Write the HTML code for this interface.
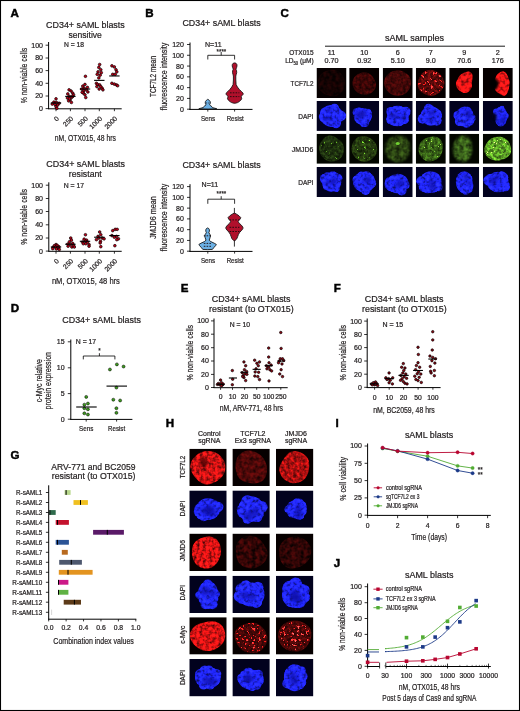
<!DOCTYPE html>
<html><head><meta charset="utf-8"><style>
html,body{margin:0;padding:0;background:#fff;}
svg{display:block;font-family:"Liberation Sans",sans-serif;will-change:transform;}
.t{stroke:#231f20;stroke-width:0.22px;}
</style></head><body>
<svg width="520" height="711" viewBox="0 0 520 711">
<defs><filter id="texR" x="-20%" y="-20%" width="140%" height="140%" color-interpolation-filters="sRGB"><feGaussianBlur in="SourceGraphic" stdDeviation="0.7" result="bl"/><feTurbulence type="fractalNoise" baseFrequency="0.32" numOctaves="2" seed="3" result="n"/><feColorMatrix in="n" type="matrix" values="1.4 0 0 0 -0.15  1.4 0 0 0 -0.15  1.4 0 0 0 -0.15  0 0 0 0 1" result="g"/><feComposite in="bl" in2="g" operator="arithmetic" k1="1.3" k2="0.25" k3="0" k4="0" result="m"/><feGaussianBlur in="m" stdDeviation="0.5"/></filter><filter id="texR2" x="-20%" y="-20%" width="140%" height="140%" color-interpolation-filters="sRGB"><feGaussianBlur in="SourceGraphic" stdDeviation="0.7" result="bl"/><feTurbulence type="fractalNoise" baseFrequency="0.26" numOctaves="2" seed="5" result="n"/><feColorMatrix in="n" type="matrix" values="1.5 0 0 0 -0.2  1.5 0 0 0 -0.2  1.5 0 0 0 -0.2  0 0 0 0 1" result="g"/><feComposite in="bl" in2="g" operator="arithmetic" k1="1.2" k2="0.35" k3="0" k4="0" result="m"/><feGaussianBlur in="m" stdDeviation="0.5"/></filter><filter id="speck" x="-20%" y="-20%" width="140%" height="140%" color-interpolation-filters="sRGB"><feGaussianBlur in="SourceGraphic" stdDeviation="0.6" result="bl"/><feTurbulence type="fractalNoise" baseFrequency="0.36" numOctaves="2" seed="7" result="n"/><feColorMatrix in="n" type="matrix" values="4.5 0 0 0 -2.4  4.5 0 0 0 -2.4  4.5 0 0 0 -2.4  4.5 0 0 0 -2.4" result="g"/><feComposite in="bl" in2="g" operator="arithmetic" k1="3.6" k2="0.0" k3="0" k4="0" result="m"/><feGaussianBlur in="m" stdDeviation="0.75"/></filter><filter id="speckC" x="-20%" y="-20%" width="140%" height="140%" color-interpolation-filters="sRGB"><feGaussianBlur in="SourceGraphic" stdDeviation="0.6" result="bl"/><feTurbulence type="fractalNoise" baseFrequency="0.28" numOctaves="2" seed="9" result="n"/><feColorMatrix in="n" type="matrix" values="2.6 0 0 0 -0.9  2.6 0 0 0 -0.9  2.6 0 0 0 -0.9  0 0 0 0 1" result="g"/><feComposite in="bl" in2="g" operator="arithmetic" k1="1.6" k2="0.2" k3="0" k4="0" result="m"/><feGaussianBlur in="m" stdDeviation="0.45"/></filter><filter id="texB" x="-20%" y="-20%" width="140%" height="140%" color-interpolation-filters="sRGB"><feGaussianBlur in="SourceGraphic" stdDeviation="0.6" result="bl"/><feTurbulence type="fractalNoise" baseFrequency="0.3" numOctaves="2" seed="11" result="n"/><feColorMatrix in="n" type="matrix" values="1.5 0 0 0 -0.2  1.5 0 0 0 -0.2  1.5 0 0 0 -0.2  0 0 0 0 1" result="g"/><feComposite in="bl" in2="g" operator="arithmetic" k1="1.1" k2="0.4" k3="0" k4="0" result="m"/><feGaussianBlur in="m" stdDeviation="0.45"/></filter><filter id="texG" x="-20%" y="-20%" width="140%" height="140%" color-interpolation-filters="sRGB"><feGaussianBlur in="SourceGraphic" stdDeviation="0.8" result="bl"/><feTurbulence type="fractalNoise" baseFrequency="0.25" numOctaves="2" seed="13" result="n"/><feColorMatrix in="n" type="matrix" values="1.5 0 0 0 -0.2  1.5 0 0 0 -0.2  1.5 0 0 0 -0.2  0 0 0 0 1" result="g"/><feComposite in="bl" in2="g" operator="arithmetic" k1="1.2" k2="0.35" k3="0" k4="0" result="m"/><feGaussianBlur in="m" stdDeviation="0.5"/></filter><filter id="speckG" x="-20%" y="-20%" width="140%" height="140%" color-interpolation-filters="sRGB"><feGaussianBlur in="SourceGraphic" stdDeviation="0.7" result="bl"/><feTurbulence type="fractalNoise" baseFrequency="0.3" numOctaves="2" seed="15" result="n"/><feColorMatrix in="n" type="matrix" values="2.6 0 0 0 -0.9  2.6 0 0 0 -0.9  2.6 0 0 0 -0.9  0 0 0 0 1" result="g"/><feComposite in="bl" in2="g" operator="arithmetic" k1="1.8" k2="0.25" k3="0" k4="0" result="m"/><feGaussianBlur in="m" stdDeviation="0.45"/></filter><filter id="faint" x="-20%" y="-20%" width="140%" height="140%" color-interpolation-filters="sRGB"><feGaussianBlur in="SourceGraphic" stdDeviation="0.6" result="bl"/><feTurbulence type="fractalNoise" baseFrequency="0.25" numOctaves="2" seed="17" result="n"/><feColorMatrix in="n" type="matrix" values="1.8 0 0 0 -0.4  1.8 0 0 0 -0.4  1.8 0 0 0 -0.4  0 0 0 0 1" result="g"/><feComposite in="bl" in2="g" operator="arithmetic" k1="1.3" k2="0.2" k3="0" k4="0" result="m"/><feGaussianBlur in="m" stdDeviation="0.5"/></filter><filter id="speckB" x="-20%" y="-20%" width="140%" height="140%" color-interpolation-filters="sRGB"><feGaussianBlur in="SourceGraphic" stdDeviation="0.6" result="bl"/><feTurbulence type="fractalNoise" baseFrequency="0.3" numOctaves="2" seed="19" result="n"/><feColorMatrix in="n" type="matrix" values="4.0 0 0 0 -2.0  4.0 0 0 0 -2.0  4.0 0 0 0 -2.0  4.0 0 0 0 -2.0" result="g"/><feComposite in="bl" in2="g" operator="arithmetic" k1="2.0" k2="0.0" k3="0" k4="0" result="m"/><feGaussianBlur in="m" stdDeviation="0.6"/></filter><filter id="speckG2" x="-20%" y="-20%" width="140%" height="140%" color-interpolation-filters="sRGB"><feGaussianBlur in="SourceGraphic" stdDeviation="0.5" result="bl"/><feTurbulence type="fractalNoise" baseFrequency="0.45" numOctaves="2" seed="21" result="n"/><feColorMatrix in="n" type="matrix" values="5.0 0 0 0 -2.9  5.0 0 0 0 -2.9  5.0 0 0 0 -2.9  5.0 0 0 0 -2.9" result="g"/><feComposite in="bl" in2="g" operator="arithmetic" k1="1.7" k2="0.0" k3="0" k4="0" result="m"/><feGaussianBlur in="m" stdDeviation="0.55"/></filter><filter id="bl6" x="-50%" y="-50%" width="200%" height="200%"><feGaussianBlur stdDeviation="0.6"/></filter><filter id="bl8" x="-50%" y="-50%" width="200%" height="200%"><feGaussianBlur stdDeviation="0.8"/></filter><filter id="bl10" x="-50%" y="-50%" width="200%" height="200%"><feGaussianBlur stdDeviation="1.0"/></filter><filter id="bl12" x="-50%" y="-50%" width="200%" height="200%"><feGaussianBlur stdDeviation="1.2"/></filter><filter id="bl15" x="-50%" y="-50%" width="200%" height="200%"><feGaussianBlur stdDeviation="1.5"/></filter></defs>
<rect x="0" y="0" width="520" height="711" fill="#fff"/>
<clipPath id="c1"><rect x="316.50" y="68.00" width="30.00" height="30.00"/></clipPath>
<g clip-path="url(#c1)">
<rect x="316.50" y="68.00" width="30.00" height="30.00" fill="#060000"/>
<path d="M344.72 80.40 Q345.36 83.00 344.94 85.69 Q344.51 88.39 343.03 90.72 Q341.55 93.05 339.20 94.49 Q336.85 95.92 334.18 96.13 Q331.50 96.33 328.97 95.78 Q326.44 95.23 324.08 94.00 Q321.72 92.78 320.14 90.57 Q318.57 88.36 318.10 85.68 Q317.63 83.00 318.04 80.30 Q318.45 77.60 320.00 75.32 Q321.55 73.05 323.93 71.77 Q326.31 70.48 328.91 69.97 Q331.50 69.46 334.14 69.85 Q336.79 70.24 338.98 71.78 Q341.18 73.32 342.63 75.56 Q344.08 77.79 344.72 80.40Z" fill="#180303" filter="url(#faint)"/>
</g>
<clipPath id="c2"><rect x="349.20" y="68.00" width="30.00" height="30.00"/></clipPath>
<g clip-path="url(#c2)">
<rect x="349.20" y="68.00" width="30.00" height="30.00" fill="#060000"/>
<path d="M375.29 81.58 Q376.12 83.60 375.99 85.90 Q375.87 88.19 374.44 90.09 Q373.02 91.98 370.95 93.15 Q368.87 94.32 366.54 94.68 Q364.20 95.03 361.96 94.45 Q359.72 93.88 357.86 92.64 Q355.99 91.40 354.64 89.64 Q353.29 87.89 352.76 85.75 Q352.23 83.60 352.61 81.40 Q353.00 79.19 354.27 77.29 Q355.55 75.38 357.54 74.13 Q359.53 72.88 361.86 72.39 Q364.20 71.89 366.54 72.39 Q368.87 72.89 370.58 74.40 Q372.29 75.92 373.37 77.74 Q374.46 79.56 375.29 81.58Z" fill="#3e0606" filter="url(#texR)"/>
</g>
<clipPath id="c3"><rect x="382.70" y="68.00" width="30.00" height="30.00"/></clipPath>
<g clip-path="url(#c3)">
<rect x="382.70" y="68.00" width="30.00" height="30.00" fill="#060000"/>
<path d="M411.03 80.39 Q411.45 83.00 410.82 85.53 Q410.18 88.05 408.73 90.21 Q407.28 92.37 405.05 93.73 Q402.82 95.09 400.26 95.52 Q397.70 95.94 395.15 95.50 Q392.59 95.05 390.43 93.64 Q388.27 92.23 386.73 90.15 Q385.19 88.07 384.45 85.53 Q383.72 83.00 384.30 80.41 Q384.89 77.81 386.56 75.78 Q388.24 73.75 390.42 72.36 Q392.60 70.97 395.15 70.51 Q397.70 70.05 400.20 70.62 Q402.70 71.19 404.97 72.43 Q407.24 73.67 408.93 75.72 Q410.61 77.77 411.03 80.39Z" fill="#460808" filter="url(#texR)"/>
</g>
<clipPath id="c4"><rect x="415.80" y="68.00" width="30.00" height="30.00"/></clipPath>
<g clip-path="url(#c4)">
<rect x="415.80" y="68.00" width="30.00" height="30.00" fill="#060000"/>
<path d="M443.95 80.40 Q444.81 83.00 444.03 85.64 Q443.26 88.28 441.58 90.29 Q439.90 92.31 437.86 93.86 Q435.83 95.42 433.31 95.86 Q430.80 96.30 428.39 95.60 Q425.98 94.90 423.69 93.76 Q421.40 92.62 419.66 90.53 Q417.93 88.45 417.70 85.73 Q417.47 83.00 418.18 80.48 Q418.89 77.95 420.17 75.69 Q421.45 73.43 423.57 71.91 Q425.69 70.39 428.25 69.96 Q430.80 69.53 433.27 70.17 Q435.74 70.81 437.76 72.32 Q439.78 73.82 441.43 75.81 Q443.09 77.79 443.95 80.40Z" fill="#600a0a" filter="url(#texR)"/>
<path d="M443.29 80.53 Q444.10 83.00 443.37 85.51 Q442.64 88.02 441.04 89.93 Q439.44 91.84 437.51 93.32 Q435.58 94.80 433.19 95.21 Q430.80 95.63 428.51 94.97 Q426.22 94.31 424.04 93.22 Q421.87 92.14 420.22 90.16 Q418.57 88.18 418.36 85.59 Q418.14 83.00 418.81 80.60 Q419.48 78.21 420.70 76.06 Q421.91 73.91 423.93 72.46 Q425.95 71.02 428.37 70.61 Q430.80 70.20 433.14 70.81 Q435.49 71.42 437.41 72.85 Q439.33 74.28 440.90 76.16 Q442.47 78.05 443.29 80.53Z" fill="#d81818" filter="url(#speck)"/>
</g>
<clipPath id="c5"><rect x="449.20" y="68.00" width="30.00" height="30.00"/></clipPath>
<g clip-path="url(#c5)">
<rect x="449.20" y="68.00" width="30.00" height="30.00" fill="#060000"/>
<path d="M472.13 80.64 Q471.71 82.40 471.89 84.06 Q472.07 85.71 471.55 87.48 Q471.03 89.25 469.72 90.63 Q468.42 92.00 466.61 92.68 Q464.80 93.37 462.98 92.72 Q461.16 92.07 459.74 90.80 Q458.31 89.53 457.17 87.96 Q456.03 86.40 455.99 84.40 Q455.94 82.40 456.74 80.75 Q457.54 79.09 458.35 77.64 Q459.15 76.19 460.38 75.05 Q461.60 73.90 463.20 73.10 Q464.80 72.29 466.92 71.72 Q469.04 71.15 470.84 72.46 Q472.65 73.76 472.60 76.32 Q472.55 78.87 472.13 80.64Z" fill="#ea1616" filter="url(#texR2)"/>
</g>
<clipPath id="c6"><rect x="482.80" y="68.00" width="30.00" height="30.00"/></clipPath>
<g clip-path="url(#c6)">
<rect x="482.80" y="68.00" width="30.00" height="30.00" fill="#060000"/>
<path d="M509.41 81.47 Q509.72 83.60 509.36 85.70 Q509.01 87.80 508.47 89.97 Q507.92 92.15 506.71 93.98 Q505.50 95.81 503.75 95.66 Q502.00 95.51 500.59 94.47 Q499.18 93.44 497.74 92.63 Q496.30 91.83 495.25 90.05 Q494.19 88.27 494.14 85.94 Q494.09 83.60 494.45 81.45 Q494.81 79.30 495.59 77.39 Q496.37 75.47 497.63 74.11 Q498.89 72.76 500.45 71.95 Q502.00 71.14 503.65 71.61 Q505.30 72.08 506.45 73.79 Q507.60 75.51 508.35 77.43 Q509.11 79.35 509.41 81.47Z" fill="#f01616" filter="url(#texR2)"/>
<ellipse cx="493.90" cy="83.90" rx="4.50" ry="6.00" fill="#060000" filter="url(#bl10)"/>
</g>
<clipPath id="c7"><rect x="316.50" y="100.90" width="30.00" height="30.00"/></clipPath>
<g clip-path="url(#c7)">
<rect x="316.50" y="100.90" width="30.00" height="30.00" fill="#02021e"/>
<g fill="#2026ff" filter="url(#texB)"><ellipse cx="331.50" cy="115.90" rx="11.37" ry="10.82"/><circle cx="336.10" cy="123.30" r="4.87"/><circle cx="323.98" cy="116.85" r="5.16"/><circle cx="334.52" cy="108.34" r="4.63"/><circle cx="332.11" cy="122.48" r="4.38"/><circle cx="325.36" cy="112.43" r="5.16"/><circle cx="332.35" cy="123.13" r="3.77"/><circle cx="340.68" cy="115.76" r="5.31"/><circle cx="326.25" cy="111.44" r="4.30"/></g>
<ellipse cx="327.46" cy="118.57" rx="3.85" ry="2.17" fill="#0c10a0" filter="url(#bl10)" opacity="0.55"/>
<ellipse cx="328.57" cy="110.05" rx="2.61" ry="2.29" fill="#0c10a0" filter="url(#bl10)" opacity="0.55"/>
</g>
<clipPath id="c8"><rect x="349.20" y="100.90" width="30.00" height="30.00"/></clipPath>
<g clip-path="url(#c8)">
<rect x="349.20" y="100.90" width="30.00" height="30.00" fill="#02021e"/>
<g fill="#2026ff" filter="url(#texB)"><ellipse cx="362.70" cy="116.50" rx="8.93" ry="8.39"/><circle cx="368.28" cy="115.09" r="2.90"/><circle cx="368.59" cy="116.45" r="3.04"/><circle cx="359.06" cy="111.70" r="4.14"/><circle cx="363.59" cy="123.73" r="3.32"/><circle cx="356.52" cy="112.22" r="3.85"/><circle cx="369.04" cy="113.41" r="2.93"/><circle cx="367.74" cy="112.13" r="3.31"/><circle cx="365.45" cy="123.04" r="3.70"/></g>
<ellipse cx="359.70" cy="114.93" rx="3.71" ry="3.87" fill="#0c10a0" filter="url(#bl10)" opacity="0.55"/>
<ellipse cx="363.16" cy="113.81" rx="3.06" ry="3.56" fill="#0c10a0" filter="url(#bl10)" opacity="0.55"/>
</g>
<clipPath id="c9"><rect x="382.70" y="100.90" width="30.00" height="30.00"/></clipPath>
<g clip-path="url(#c9)">
<rect x="382.70" y="100.90" width="30.00" height="30.00" fill="#02021e"/>
<g fill="#2026ff" filter="url(#texB)"><ellipse cx="397.70" cy="115.90" rx="10.28" ry="10.28"/><circle cx="405.61" cy="111.86" r="5.08"/><circle cx="404.54" cy="119.86" r="4.26"/><circle cx="391.19" cy="114.65" r="3.85"/><circle cx="391.23" cy="118.25" r="4.31"/><circle cx="404.13" cy="116.91" r="4.76"/><circle cx="390.94" cy="119.55" r="4.80"/><circle cx="393.63" cy="120.88" r="4.89"/><circle cx="390.85" cy="111.61" r="4.60"/></g>
<ellipse cx="403.16" cy="117.81" rx="2.47" ry="2.46" fill="#0c10a0" filter="url(#bl10)" opacity="0.55"/>
<ellipse cx="393.38" cy="115.91" rx="3.88" ry="2.63" fill="#0c10a0" filter="url(#bl10)" opacity="0.55"/>
</g>
<clipPath id="c10"><rect x="415.80" y="100.90" width="30.00" height="30.00"/></clipPath>
<g clip-path="url(#c10)">
<rect x="415.80" y="100.90" width="30.00" height="30.00" fill="#02021e"/>
<g fill="#2026ff" filter="url(#texB)"><ellipse cx="430.80" cy="115.90" rx="10.28" ry="9.74"/><circle cx="428.79" cy="107.99" r="3.63"/><circle cx="437.61" cy="115.83" r="4.44"/><circle cx="437.81" cy="120.22" r="3.58"/><circle cx="428.57" cy="108.36" r="4.60"/><circle cx="422.72" cy="118.85" r="4.97"/><circle cx="436.55" cy="120.74" r="4.92"/><circle cx="430.29" cy="108.82" r="3.83"/><circle cx="437.02" cy="114.11" r="4.59"/></g>
<ellipse cx="430.65" cy="120.05" rx="3.10" ry="2.32" fill="#0c10a0" filter="url(#bl10)" opacity="0.55"/>
<ellipse cx="431.54" cy="113.16" rx="3.45" ry="2.58" fill="#0c10a0" filter="url(#bl10)" opacity="0.55"/>
</g>
<clipPath id="c11"><rect x="449.20" y="100.90" width="30.00" height="30.00"/></clipPath>
<g clip-path="url(#c11)">
<rect x="449.20" y="100.90" width="30.00" height="30.00" fill="#02021e"/>
<g fill="#2026ff" filter="url(#texB)"><ellipse cx="464.80" cy="115.90" rx="8.93" ry="9.47"/><circle cx="459.31" cy="121.58" r="4.34"/><circle cx="466.49" cy="123.69" r="4.02"/><circle cx="472.26" cy="118.06" r="3.44"/><circle cx="462.58" cy="122.33" r="3.95"/><circle cx="469.83" cy="121.20" r="4.32"/><circle cx="457.47" cy="115.30" r="4.00"/><circle cx="467.46" cy="110.34" r="3.60"/><circle cx="459.21" cy="117.05" r="4.53"/></g>
<ellipse cx="469.16" cy="116.77" rx="2.50" ry="2.30" fill="#0c10a0" filter="url(#bl10)" opacity="0.55"/>
<ellipse cx="467.85" cy="113.39" rx="3.23" ry="3.13" fill="#0c10a0" filter="url(#bl10)" opacity="0.55"/>
</g>
<clipPath id="c12"><rect x="482.80" y="100.90" width="30.00" height="30.00"/></clipPath>
<g clip-path="url(#c12)">
<rect x="482.80" y="100.90" width="30.00" height="30.00" fill="#02021e"/>
<g fill="#2026ff" filter="url(#texB)"><ellipse cx="500.80" cy="116.50" rx="6.49" ry="10.01"/><circle cx="500.73" cy="109.85" r="2.45"/><circle cx="497.53" cy="112.80" r="3.08"/><circle cx="501.16" cy="110.31" r="2.98"/><circle cx="495.73" cy="116.37" r="3.28"/><circle cx="505.46" cy="115.90" r="3.15"/><circle cx="502.08" cy="108.01" r="2.25"/><circle cx="504.82" cy="113.95" r="2.36"/><circle cx="496.36" cy="111.70" r="3.28"/></g>
<ellipse cx="503.26" cy="119.56" rx="2.10" ry="2.64" fill="#0c10a0" filter="url(#bl10)" opacity="0.55"/>
<ellipse cx="501.44" cy="121.62" rx="3.03" ry="2.27" fill="#0c10a0" filter="url(#bl10)" opacity="0.55"/>
<ellipse cx="493.60" cy="117.40" rx="3.00" ry="4.50" fill="#02021e" filter="url(#bl10)"/>
</g>
<clipPath id="c13"><rect x="316.50" y="133.80" width="30.00" height="30.00"/></clipPath>
<g clip-path="url(#c13)">
<rect x="316.50" y="133.80" width="30.00" height="30.00" fill="#030600"/>
<path d="M343.65 146.28 Q344.17 148.80 343.84 151.40 Q343.50 154.01 342.16 156.28 Q340.82 158.56 338.57 159.79 Q336.33 161.02 333.92 161.40 Q331.50 161.79 329.11 161.33 Q326.73 160.87 324.81 159.35 Q322.88 157.83 321.46 155.80 Q320.04 153.77 319.34 151.29 Q318.63 148.80 319.28 146.29 Q319.94 143.78 321.26 141.62 Q322.59 139.47 324.47 137.61 Q326.34 135.76 328.92 135.46 Q331.50 135.17 333.75 136.30 Q335.99 137.44 337.95 138.72 Q339.91 139.99 341.52 141.87 Q343.13 143.75 343.65 146.28Z" fill="#203410" filter="url(#texR)"/>
<path d="M343.04 146.40 Q343.54 148.80 343.22 151.27 Q342.90 153.75 341.62 155.91 Q340.35 158.07 338.22 159.24 Q336.09 160.41 333.80 160.77 Q331.50 161.14 329.23 160.70 Q326.97 160.26 325.14 158.82 Q323.31 157.38 321.96 155.45 Q320.61 153.52 319.94 151.16 Q319.28 148.80 319.90 146.42 Q320.51 144.03 321.77 141.98 Q323.04 139.93 324.82 138.17 Q326.60 136.41 329.05 136.13 Q331.50 135.85 333.63 136.93 Q335.77 138.01 337.63 139.22 Q339.49 140.43 341.02 142.22 Q342.55 144.01 343.04 146.40Z" fill="#3e6e18" filter="url(#speckG2)"/>
</g>
<clipPath id="c14"><rect x="349.20" y="133.80" width="30.00" height="30.00"/></clipPath>
<g clip-path="url(#c14)">
<rect x="349.20" y="133.80" width="30.00" height="30.00" fill="#030600"/>
<path d="M376.79 146.29 Q377.55 148.80 377.11 151.44 Q376.67 154.08 375.01 156.13 Q373.36 158.17 371.20 159.47 Q369.05 160.77 366.62 161.38 Q364.20 161.99 361.76 161.43 Q359.31 160.87 357.31 159.38 Q355.31 157.89 353.82 155.86 Q352.32 153.84 351.76 151.32 Q351.20 148.80 351.73 146.27 Q352.26 143.74 353.54 141.47 Q354.81 139.19 356.94 137.65 Q359.06 136.11 361.63 135.92 Q364.20 135.72 366.55 136.46 Q368.90 137.20 370.93 138.52 Q372.96 139.84 374.49 141.81 Q376.03 143.79 376.79 146.29Z" fill="#263c10" filter="url(#texR)"/>
<path d="M376.16 146.42 Q376.88 148.80 376.46 151.31 Q376.05 153.82 374.47 155.76 Q372.90 157.70 370.85 158.94 Q368.80 160.17 366.50 160.75 Q364.20 161.33 361.88 160.80 Q359.56 160.27 357.66 158.85 Q355.76 157.44 354.34 155.51 Q352.91 153.58 352.38 151.19 Q351.85 148.80 352.36 146.40 Q352.86 143.99 354.07 141.83 Q355.28 139.67 357.30 138.21 Q359.32 136.75 361.76 136.56 Q364.20 136.37 366.43 137.08 Q368.66 137.78 370.59 139.03 Q372.52 140.28 373.98 142.16 Q375.44 144.04 376.16 146.42Z" fill="#4c8a1e" filter="url(#speckG2)"/>
</g>
<clipPath id="c15"><rect x="382.70" y="133.80" width="30.00" height="30.00"/></clipPath>
<g clip-path="url(#c15)">
<rect x="382.70" y="133.80" width="30.00" height="30.00" fill="#030600"/>
<path d="M410.25 146.20 Q410.52 148.80 409.99 151.29 Q409.46 153.78 408.19 156.01 Q406.92 158.23 404.86 159.80 Q402.79 161.38 400.25 161.90 Q397.70 162.42 395.14 161.94 Q392.57 161.47 390.37 160.01 Q388.17 158.55 386.85 156.25 Q385.53 153.96 385.11 151.38 Q384.70 148.80 385.09 146.21 Q385.48 143.62 386.96 141.47 Q388.43 139.32 390.63 138.04 Q392.83 136.77 395.26 136.12 Q397.70 135.47 400.33 135.65 Q402.95 135.83 405.21 137.32 Q407.46 138.82 408.72 141.21 Q409.98 143.60 410.25 146.20Z" fill="#2a4212" filter="url(#texG)"/>
<ellipse cx="397.70" cy="143.40" rx="2.10" ry="1.50" fill="#70d030" filter="url(#bl6)"/>
</g>
<clipPath id="c16"><rect x="415.80" y="133.80" width="30.00" height="30.00"/></clipPath>
<g clip-path="url(#c16)">
<rect x="415.80" y="133.80" width="30.00" height="30.00" fill="#030600"/>
<path d="M442.72 146.33 Q442.73 148.80 442.36 151.12 Q441.98 153.43 440.67 155.39 Q439.35 157.35 437.39 158.66 Q435.42 159.96 433.11 160.80 Q430.80 161.64 428.24 161.40 Q425.68 161.15 423.61 159.61 Q421.53 158.07 420.28 155.87 Q419.03 153.67 418.69 151.24 Q418.35 148.80 418.89 146.44 Q419.42 144.09 420.77 142.10 Q422.11 140.11 424.17 138.94 Q426.23 137.77 428.51 137.26 Q430.80 136.75 433.36 136.60 Q435.91 136.45 438.32 137.66 Q440.73 138.87 441.72 141.37 Q442.71 143.87 442.72 146.33Z" fill="#3a6618" filter="url(#texR)"/>
<path d="M442.12 146.46 Q442.13 148.80 441.78 151.00 Q441.43 153.20 440.17 155.06 Q438.92 156.92 437.06 158.16 Q435.19 159.41 433.00 160.20 Q430.80 161.00 428.37 160.77 Q425.94 160.53 423.97 159.07 Q421.99 157.61 420.81 155.52 Q419.62 153.43 419.30 151.12 Q418.97 148.80 419.48 146.56 Q419.99 144.32 421.27 142.43 Q422.54 140.54 424.50 139.43 Q426.46 138.32 428.63 137.84 Q430.80 137.36 433.23 137.21 Q435.66 137.07 437.94 138.22 Q440.23 139.37 441.17 141.74 Q442.11 144.12 442.12 146.46Z" fill="#80d038" filter="url(#speckG2)"/>
</g>
<clipPath id="c17"><rect x="449.20" y="133.80" width="30.00" height="30.00"/></clipPath>
<g clip-path="url(#c17)">
<rect x="449.20" y="133.80" width="30.00" height="30.00" fill="#030600"/>
<path d="M471.94 146.22 Q472.06 148.80 471.87 151.34 Q471.68 153.87 470.72 156.16 Q469.77 158.44 468.13 159.85 Q466.49 161.27 464.59 161.80 Q462.70 162.32 460.80 161.82 Q458.90 161.31 457.28 159.86 Q455.66 158.40 454.50 156.25 Q453.33 154.09 453.00 151.45 Q452.67 148.80 453.22 146.28 Q453.76 143.75 454.82 141.63 Q455.88 139.50 457.44 138.04 Q458.99 136.58 460.84 136.04 Q462.70 135.51 464.66 135.69 Q466.63 135.87 468.39 137.25 Q470.16 138.63 470.99 141.14 Q471.82 143.65 471.94 146.22Z" fill="#385e1a" filter="url(#texG)"/>
</g>
<clipPath id="c18"><rect x="482.80" y="133.80" width="30.00" height="30.00"/></clipPath>
<g clip-path="url(#c18)">
<rect x="482.80" y="133.80" width="30.00" height="30.00" fill="#030600"/>
<path d="M510.65 146.40 Q511.34 148.80 511.04 151.36 Q510.74 153.92 508.94 155.81 Q507.13 157.71 504.81 158.66 Q502.50 159.62 500.15 160.16 Q497.80 160.69 495.31 160.48 Q492.83 160.26 490.52 159.11 Q488.22 157.95 486.49 155.95 Q484.76 153.96 484.37 151.38 Q483.99 148.80 484.91 146.43 Q485.83 144.07 487.32 142.14 Q488.81 140.22 490.86 138.87 Q492.91 137.52 495.35 137.02 Q497.80 136.52 500.35 136.79 Q502.89 137.06 505.10 138.39 Q507.31 139.72 508.63 141.86 Q509.95 144.00 510.65 146.40Z" fill="#62ac28" filter="url(#texR)"/>
<path d="M510.00 146.52 Q510.66 148.80 510.38 151.23 Q510.09 153.66 508.38 155.46 Q506.67 157.26 504.46 158.17 Q502.26 159.08 500.03 159.59 Q497.80 160.10 495.44 159.89 Q493.08 159.69 490.89 158.59 Q488.70 157.49 487.05 155.59 Q485.41 153.70 485.05 151.25 Q484.68 148.80 485.55 146.55 Q486.42 144.30 487.84 142.47 Q489.26 140.65 491.20 139.37 Q493.15 138.09 495.48 137.61 Q497.80 137.13 500.22 137.39 Q502.64 137.65 504.74 138.91 Q506.84 140.17 508.09 142.20 Q509.35 144.24 510.00 146.52Z" fill="#a8f458" filter="url(#speckG2)"/>
</g>
<clipPath id="c19"><rect x="316.50" y="167.00" width="30.00" height="30.00"/></clipPath>
<g clip-path="url(#c19)">
<rect x="316.50" y="167.00" width="30.00" height="30.00" fill="#02021e"/>
<g fill="#2026ff" filter="url(#texB)"><ellipse cx="331.50" cy="182.00" rx="9.74" ry="9.74"/><circle cx="326.70" cy="186.45" r="3.60"/><circle cx="337.88" cy="178.16" r="4.47"/><circle cx="324.94" cy="179.73" r="4.54"/><circle cx="324.42" cy="178.31" r="4.43"/><circle cx="335.27" cy="176.00" r="3.58"/><circle cx="336.11" cy="188.33" r="3.61"/><circle cx="327.23" cy="175.75" r="3.43"/><circle cx="332.79" cy="176.11" r="4.77"/></g>
<ellipse cx="333.82" cy="181.00" rx="2.99" ry="3.42" fill="#0c10a0" filter="url(#bl10)" opacity="0.55"/>
<ellipse cx="327.95" cy="182.66" rx="3.23" ry="2.15" fill="#0c10a0" filter="url(#bl10)" opacity="0.55"/>
</g>
<clipPath id="c20"><rect x="349.20" y="167.00" width="30.00" height="30.00"/></clipPath>
<g clip-path="url(#c20)">
<rect x="349.20" y="167.00" width="30.00" height="30.00" fill="#02021e"/>
<g fill="#2026ff" filter="url(#texB)"><ellipse cx="364.20" cy="182.00" rx="11.09" ry="10.28"/><circle cx="359.82" cy="177.13" r="3.99"/><circle cx="365.70" cy="190.18" r="4.70"/><circle cx="369.67" cy="177.92" r="4.25"/><circle cx="371.49" cy="183.28" r="4.40"/><circle cx="371.45" cy="183.13" r="4.65"/><circle cx="357.07" cy="180.08" r="4.55"/><circle cx="366.67" cy="176.15" r="4.93"/><circle cx="361.71" cy="175.17" r="3.78"/></g>
<ellipse cx="366.06" cy="179.97" rx="3.38" ry="2.67" fill="#0c10a0" filter="url(#bl10)" opacity="0.55"/>
<ellipse cx="368.58" cy="179.84" rx="2.24" ry="3.89" fill="#0c10a0" filter="url(#bl10)" opacity="0.55"/>
</g>
<clipPath id="c21"><rect x="382.70" y="167.00" width="30.00" height="30.00"/></clipPath>
<g clip-path="url(#c21)">
<rect x="382.70" y="167.00" width="30.00" height="30.00" fill="#02021e"/>
<g fill="#2026ff" filter="url(#texB)"><ellipse cx="397.70" cy="183.50" rx="10.82" ry="9.74"/><circle cx="406.07" cy="185.36" r="3.57"/><circle cx="389.39" cy="185.30" r="4.65"/><circle cx="390.00" cy="185.60" r="3.36"/><circle cx="390.70" cy="186.35" r="4.74"/><circle cx="389.29" cy="181.20" r="4.05"/><circle cx="401.76" cy="190.80" r="4.69"/><circle cx="392.81" cy="187.85" r="4.18"/><circle cx="388.86" cy="183.70" r="4.32"/></g>
<ellipse cx="401.77" cy="182.69" rx="3.10" ry="2.95" fill="#0c10a0" filter="url(#bl10)" opacity="0.55"/>
<ellipse cx="398.27" cy="184.77" rx="2.82" ry="3.01" fill="#0c10a0" filter="url(#bl10)" opacity="0.55"/>
</g>
<clipPath id="c22"><rect x="415.80" y="167.00" width="30.00" height="30.00"/></clipPath>
<g clip-path="url(#c22)">
<rect x="415.80" y="167.00" width="30.00" height="30.00" fill="#02021e"/>
<g fill="#2026ff" filter="url(#texB)"><ellipse cx="430.80" cy="182.00" rx="10.82" ry="10.82"/><circle cx="423.94" cy="186.44" r="5.29"/><circle cx="434.03" cy="188.50" r="3.75"/><circle cx="435.72" cy="186.43" r="3.99"/><circle cx="421.36" cy="181.19" r="4.98"/><circle cx="425.18" cy="187.38" r="4.97"/><circle cx="427.66" cy="188.05" r="5.25"/><circle cx="425.67" cy="177.35" r="3.83"/><circle cx="438.57" cy="187.26" r="3.90"/></g>
<ellipse cx="432.02" cy="182.51" rx="2.46" ry="3.71" fill="#0c10a0" filter="url(#bl10)" opacity="0.55"/>
<ellipse cx="432.29" cy="186.95" rx="3.48" ry="2.99" fill="#0c10a0" filter="url(#bl10)" opacity="0.55"/>
</g>
<clipPath id="c23"><rect x="449.20" y="167.00" width="30.00" height="30.00"/></clipPath>
<g clip-path="url(#c23)">
<rect x="449.20" y="167.00" width="30.00" height="30.00" fill="#02021e"/>
<g fill="#2026ff" filter="url(#texB)"><ellipse cx="464.20" cy="182.00" rx="8.39" ry="10.82"/><circle cx="463.35" cy="189.94" r="2.98"/><circle cx="461.41" cy="187.78" r="2.88"/><circle cx="463.06" cy="188.79" r="3.31"/><circle cx="463.99" cy="175.30" r="3.76"/><circle cx="468.77" cy="188.68" r="3.92"/><circle cx="465.90" cy="190.79" r="3.89"/><circle cx="469.58" cy="185.53" r="3.87"/><circle cx="469.07" cy="178.69" r="3.23"/></g>
<ellipse cx="469.03" cy="183.04" rx="2.12" ry="2.67" fill="#0c10a0" filter="url(#bl10)" opacity="0.55"/>
<ellipse cx="465.68" cy="176.72" rx="2.51" ry="2.97" fill="#0c10a0" filter="url(#bl10)" opacity="0.55"/>
</g>
<clipPath id="c24"><rect x="482.80" y="167.00" width="30.00" height="30.00"/></clipPath>
<g clip-path="url(#c24)">
<rect x="482.80" y="167.00" width="30.00" height="30.00" fill="#02021e"/>
<g fill="#2026ff" filter="url(#texB)"><ellipse cx="497.80" cy="182.00" rx="10.82" ry="10.28"/><circle cx="503.73" cy="177.24" r="4.54"/><circle cx="502.42" cy="176.68" r="4.42"/><circle cx="489.71" cy="177.54" r="3.57"/><circle cx="504.63" cy="185.00" r="4.96"/><circle cx="501.66" cy="176.46" r="5.13"/><circle cx="488.53" cy="180.45" r="5.15"/><circle cx="505.67" cy="186.94" r="4.35"/><circle cx="502.22" cy="188.28" r="3.64"/></g>
<ellipse cx="497.25" cy="177.13" rx="2.35" ry="2.65" fill="#0c10a0" filter="url(#bl10)" opacity="0.55"/>
<ellipse cx="493.14" cy="180.77" rx="3.72" ry="3.84" fill="#0c10a0" filter="url(#bl10)" opacity="0.55"/>
</g>
<clipPath id="c25"><rect x="189.30" y="448.70" width="37.40" height="37.40"/></clipPath>
<g clip-path="url(#c25)">
<rect x="189.30" y="448.70" width="37.40" height="37.40" fill="#060000"/>
<path d="M225.06 464.02 Q225.80 467.40 225.00 470.76 Q224.21 474.11 222.01 476.66 Q219.81 479.21 217.09 480.99 Q214.37 482.77 211.18 483.86 Q208.00 484.94 204.68 484.18 Q201.36 483.43 198.89 481.21 Q196.41 478.99 194.37 476.44 Q192.32 473.90 191.07 470.65 Q189.82 467.40 190.62 463.97 Q191.42 460.53 193.66 457.92 Q195.91 455.31 198.75 453.62 Q201.59 451.93 204.80 451.37 Q208.00 450.81 211.21 451.35 Q214.42 451.90 217.34 453.52 Q220.26 455.14 222.29 457.89 Q224.32 460.64 225.06 464.02Z" fill="#d41414" filter="url(#texR)"/>
<ellipse cx="203.51" cy="462.16" rx="3.74" ry="4.86" fill="#300202" filter="url(#bl12)" opacity="0.7"/>
</g>
<clipPath id="c26"><rect x="232.40" y="448.70" width="37.40" height="37.40"/></clipPath>
<g clip-path="url(#c26)">
<rect x="232.40" y="448.70" width="37.40" height="37.40" fill="#060000"/>
<path d="M266.35 464.34 Q267.15 467.40 267.06 470.76 Q266.97 474.12 265.44 477.31 Q263.91 480.50 260.78 482.03 Q257.65 483.56 254.37 483.46 Q251.10 483.36 248.07 482.87 Q245.04 482.37 242.26 480.83 Q239.48 479.29 237.95 476.45 Q236.42 473.62 235.89 470.51 Q235.35 467.40 235.49 464.12 Q235.62 460.84 237.16 457.78 Q238.69 454.71 241.56 452.81 Q244.42 450.91 247.76 450.61 Q251.10 450.31 254.12 451.40 Q257.14 452.49 259.58 454.36 Q262.02 456.23 263.78 458.76 Q265.55 461.28 266.35 464.34Z" fill="#4c0808" filter="url(#texR2)"/>
</g>
<clipPath id="c27"><rect x="276.00" y="448.70" width="37.40" height="37.40"/></clipPath>
<g clip-path="url(#c27)">
<rect x="276.00" y="448.70" width="37.40" height="37.40" fill="#060000"/>
<path d="M309.36 464.36 Q309.35 467.40 308.81 470.21 Q308.27 473.02 307.00 475.73 Q305.73 478.43 303.26 480.26 Q300.78 482.09 297.74 482.76 Q294.70 483.43 291.60 482.89 Q288.50 482.36 285.89 480.59 Q283.27 478.83 281.44 476.24 Q279.62 473.65 279.28 470.52 Q278.95 467.40 280.26 464.68 Q281.57 461.96 283.09 459.64 Q284.61 457.31 286.57 454.90 Q288.53 452.49 291.61 451.54 Q294.70 450.59 297.82 451.45 Q300.95 452.31 303.62 454.06 Q306.29 455.81 307.84 458.56 Q309.38 461.32 309.36 464.36Z" fill="#b01010" filter="url(#texR)"/>
</g>
<clipPath id="c28"><rect x="189.30" y="490.40" width="37.40" height="37.40"/></clipPath>
<g clip-path="url(#c28)">
<rect x="189.30" y="490.40" width="37.40" height="37.40" fill="#02021e"/>
<g fill="#2026ff" filter="url(#texB)"><ellipse cx="208.00" cy="509.10" rx="12.14" ry="10.80"/><circle cx="199.12" cy="508.81" r="4.71"/><circle cx="200.44" cy="515.08" r="3.98"/><circle cx="198.59" cy="511.80" r="4.80"/><circle cx="214.93" cy="504.96" r="4.35"/><circle cx="205.36" cy="515.66" r="3.82"/><circle cx="199.66" cy="508.45" r="4.75"/><circle cx="218.33" cy="506.81" r="5.12"/><circle cx="203.78" cy="515.82" r="5.34"/></g>
<ellipse cx="211.74" cy="511.58" rx="4.47" ry="4.85" fill="#0c10a0" filter="url(#bl10)" opacity="0.55"/>
<ellipse cx="207.62" cy="511.47" rx="4.25" ry="3.61" fill="#0c10a0" filter="url(#bl10)" opacity="0.55"/>
<ellipse cx="204.93" cy="510.39" rx="4.48" ry="2.88" fill="#0c10a0" filter="url(#bl10)" opacity="0.55"/>
<ellipse cx="209.23" cy="508.31" rx="2.98" ry="3.67" fill="#0c10a0" filter="url(#bl10)" opacity="0.55"/>
</g>
<clipPath id="c29"><rect x="232.40" y="490.40" width="37.40" height="37.40"/></clipPath>
<g clip-path="url(#c29)">
<rect x="232.40" y="490.40" width="37.40" height="37.40" fill="#02021e"/>
<g fill="#2026ff" filter="url(#texB)"><ellipse cx="251.10" cy="509.10" rx="12.82" ry="12.82"/><circle cx="256.94" cy="516.60" r="5.48"/><circle cx="261.51" cy="507.03" r="6.11"/><circle cx="247.54" cy="501.54" r="6.38"/><circle cx="242.12" cy="513.09" r="4.60"/><circle cx="247.33" cy="519.13" r="4.65"/><circle cx="258.78" cy="513.66" r="5.14"/><circle cx="241.63" cy="509.62" r="4.77"/><circle cx="260.14" cy="509.20" r="5.04"/></g>
<ellipse cx="248.64" cy="515.94" rx="4.43" ry="4.70" fill="#0c10a0" filter="url(#bl10)" opacity="0.55"/>
<ellipse cx="254.68" cy="512.09" rx="4.06" ry="4.54" fill="#0c10a0" filter="url(#bl10)" opacity="0.55"/>
</g>
<clipPath id="c30"><rect x="276.00" y="490.40" width="37.40" height="37.40"/></clipPath>
<g clip-path="url(#c30)">
<rect x="276.00" y="490.40" width="37.40" height="37.40" fill="#02021e"/>
<g fill="#2026ff" filter="url(#texB)"><ellipse cx="296.57" cy="509.10" rx="10.46" ry="9.45"/><circle cx="287.79" cy="509.29" r="3.37"/><circle cx="291.87" cy="513.17" r="4.27"/><circle cx="299.27" cy="515.17" r="4.55"/><circle cx="302.98" cy="511.17" r="3.71"/><circle cx="299.48" cy="502.65" r="4.24"/><circle cx="302.27" cy="505.40" r="3.94"/><circle cx="300.85" cy="515.81" r="3.26"/><circle cx="296.89" cy="502.46" r="4.15"/></g>
<ellipse cx="298.34" cy="514.59" rx="4.50" ry="4.48" fill="#0c10a0" filter="url(#bl10)" opacity="0.55"/>
<ellipse cx="298.59" cy="508.37" rx="2.69" ry="4.39" fill="#0c10a0" filter="url(#bl10)" opacity="0.55"/>
</g>
<clipPath id="c31"><rect x="189.30" y="533.60" width="37.40" height="37.40"/></clipPath>
<g clip-path="url(#c31)">
<rect x="189.30" y="533.60" width="37.40" height="37.40" fill="#060000"/>
<path d="M221.04 549.04 Q221.28 552.30 220.47 555.30 Q219.66 558.29 218.22 560.95 Q216.77 563.60 214.51 565.56 Q212.24 567.52 209.37 568.16 Q206.50 568.80 203.59 568.30 Q200.67 567.80 198.12 566.06 Q195.58 564.32 194.15 561.45 Q192.73 558.58 192.25 555.44 Q191.78 552.30 192.10 549.09 Q192.41 545.88 194.17 543.27 Q195.93 540.67 198.52 539.31 Q201.10 537.95 203.80 537.18 Q206.50 536.41 209.46 536.50 Q212.42 536.60 215.05 538.30 Q217.68 540.01 219.24 542.90 Q220.81 545.78 221.04 549.04Z" fill="#e01414" filter="url(#texR)"/>
</g>
<clipPath id="c32"><rect x="232.40" y="533.60" width="37.40" height="37.40"/></clipPath>
<g clip-path="url(#c32)">
<rect x="232.40" y="533.60" width="37.40" height="37.40" fill="#060000"/>
<path d="M266.64 549.36 Q267.98 552.30 267.53 555.61 Q267.09 558.92 265.01 561.53 Q262.94 564.14 260.17 565.83 Q257.41 567.53 254.25 568.14 Q251.10 568.75 247.92 568.21 Q244.74 567.66 242.04 565.86 Q239.35 564.05 237.96 561.18 Q236.58 558.31 236.17 555.31 Q235.76 552.30 235.76 549.12 Q235.77 545.95 237.25 542.94 Q238.74 539.94 241.64 538.20 Q244.54 536.46 247.82 535.91 Q251.10 535.36 254.24 536.25 Q257.38 537.15 259.61 539.36 Q261.84 541.56 263.57 543.99 Q265.31 546.42 266.64 549.36Z" fill="#3a0606" filter="url(#faint)"/>
</g>
<clipPath id="c33"><rect x="276.00" y="533.60" width="37.40" height="37.40"/></clipPath>
<g clip-path="url(#c33)">
<rect x="276.00" y="533.60" width="37.40" height="37.40" fill="#060000"/>
<path d="M311.14 549.01 Q311.71 552.30 310.74 555.42 Q309.77 558.54 307.83 561.01 Q305.89 563.49 303.27 565.08 Q300.66 566.68 297.68 567.56 Q294.70 568.44 291.37 568.40 Q288.05 568.36 285.23 566.48 Q282.40 564.60 281.07 561.55 Q279.74 558.50 279.23 555.40 Q278.72 552.30 279.06 549.13 Q279.40 545.96 281.22 543.31 Q283.05 540.65 285.78 539.00 Q288.50 537.34 291.60 536.70 Q294.70 536.05 297.81 536.67 Q300.92 537.29 303.67 538.93 Q306.43 540.57 308.50 543.15 Q310.57 545.73 311.14 549.01Z" fill="#360606" filter="url(#faint)"/>
</g>
<clipPath id="c34"><rect x="189.30" y="575.70" width="37.40" height="37.40"/></clipPath>
<g clip-path="url(#c34)">
<rect x="189.30" y="575.70" width="37.40" height="37.40" fill="#02021e"/>
<g fill="#2026ff" filter="url(#texB)"><ellipse cx="208.00" cy="594.40" rx="10.12" ry="13.49"/><circle cx="213.75" cy="598.83" r="4.64"/><circle cx="212.62" cy="604.30" r="4.91"/><circle cx="207.64" cy="584.50" r="4.88"/><circle cx="208.31" cy="604.80" r="4.10"/><circle cx="199.23" cy="595.10" r="3.83"/><circle cx="208.25" cy="583.40" r="3.61"/><circle cx="215.38" cy="593.95" r="4.39"/><circle cx="205.53" cy="604.10" r="5.11"/></g>
<ellipse cx="205.57" cy="590.91" rx="4.70" ry="4.25" fill="#0c10a0" filter="url(#bl10)" opacity="0.55"/>
<ellipse cx="212.69" cy="593.16" rx="2.90" ry="3.44" fill="#0c10a0" filter="url(#bl10)" opacity="0.55"/>
</g>
<clipPath id="c35"><rect x="232.40" y="575.70" width="37.40" height="37.40"/></clipPath>
<g clip-path="url(#c35)">
<rect x="232.40" y="575.70" width="37.40" height="37.40" fill="#02021e"/>
<g fill="#2026ff" filter="url(#texB)"><ellipse cx="251.10" cy="594.40" rx="13.49" ry="12.14"/><circle cx="242.07" cy="598.80" r="5.30"/><circle cx="241.66" cy="589.10" r="6.15"/><circle cx="245.89" cy="585.52" r="5.33"/><circle cx="240.02" cy="596.21" r="6.21"/><circle cx="241.66" cy="590.23" r="4.28"/><circle cx="257.93" cy="587.16" r="5.46"/><circle cx="256.36" cy="602.40" r="5.40"/><circle cx="256.47" cy="601.69" r="5.69"/></g>
<ellipse cx="251.96" cy="596.66" rx="4.36" ry="3.25" fill="#0c10a0" filter="url(#bl10)" opacity="0.55"/>
<ellipse cx="244.44" cy="595.17" rx="4.36" ry="3.22" fill="#0c10a0" filter="url(#bl10)" opacity="0.55"/>
</g>
<clipPath id="c36"><rect x="276.00" y="575.70" width="37.40" height="37.40"/></clipPath>
<g clip-path="url(#c36)">
<rect x="276.00" y="575.70" width="37.40" height="37.40" fill="#02021e"/>
<g fill="#2026ff" filter="url(#texB)"><ellipse cx="295.45" cy="595.15" rx="13.49" ry="12.82"/><circle cx="303.98" cy="590.17" r="5.62"/><circle cx="290.23" cy="601.69" r="5.16"/><circle cx="299.49" cy="602.43" r="4.73"/><circle cx="305.46" cy="597.15" r="4.64"/><circle cx="288.55" cy="588.86" r="6.36"/><circle cx="289.29" cy="586.47" r="5.80"/><circle cx="295.59" cy="584.09" r="6.56"/><circle cx="300.33" cy="602.67" r="5.02"/></g>
<ellipse cx="298.82" cy="599.22" rx="3.81" ry="4.52" fill="#0c10a0" filter="url(#bl10)" opacity="0.55"/>
<ellipse cx="295.18" cy="593.16" rx="4.67" ry="3.10" fill="#0c10a0" filter="url(#bl10)" opacity="0.55"/>
<ellipse cx="293.71" cy="598.01" rx="4.10" ry="3.61" fill="#0c10a0" filter="url(#bl10)" opacity="0.55"/>
<ellipse cx="294.93" cy="597.00" rx="4.05" ry="3.29" fill="#0c10a0" filter="url(#bl10)" opacity="0.55"/>
</g>
<clipPath id="c37"><rect x="189.30" y="617.20" width="37.40" height="37.40"/></clipPath>
<g clip-path="url(#c37)">
<rect x="189.30" y="617.20" width="37.40" height="37.40" fill="#060000"/>
<path d="M225.06 632.77 Q225.59 635.90 224.81 638.93 Q224.04 641.97 221.90 644.30 Q219.76 646.64 217.05 648.25 Q214.33 649.86 211.17 650.67 Q208.00 651.48 204.77 650.81 Q201.53 650.15 198.82 648.45 Q196.11 646.75 193.87 644.42 Q191.62 642.09 190.56 639.00 Q189.50 635.90 190.36 632.73 Q191.22 629.55 193.63 627.26 Q196.03 624.97 199.03 623.86 Q202.04 622.76 205.02 622.15 Q208.00 621.54 211.34 621.36 Q214.68 621.17 217.84 622.60 Q221.01 624.02 222.77 626.84 Q224.53 629.65 225.06 632.77Z" fill="#e01414" filter="url(#texR)"/>
</g>
<clipPath id="c38"><rect x="232.40" y="617.20" width="37.40" height="37.40"/></clipPath>
<g clip-path="url(#c38)">
<rect x="232.40" y="617.20" width="37.40" height="37.40" fill="#060000"/>
<path d="M266.94 634.82 Q267.83 637.77 267.24 640.84 Q266.64 643.92 264.85 646.55 Q263.05 649.18 260.30 650.90 Q257.54 652.62 254.32 652.97 Q251.10 653.32 248.04 652.60 Q244.97 651.89 242.42 650.19 Q239.87 648.49 238.22 646.00 Q236.58 643.51 235.50 640.64 Q234.43 637.77 234.51 634.51 Q234.60 631.24 236.79 628.73 Q238.99 626.21 242.02 625.02 Q245.05 623.82 248.07 623.14 Q251.10 622.45 254.24 622.87 Q257.38 623.30 259.90 625.13 Q262.42 626.97 264.23 629.42 Q266.04 631.86 266.94 634.82Z" fill="#4a0808" filter="url(#texR)"/>
<path d="M266.14 634.96 Q267.00 637.77 266.43 640.69 Q265.87 643.61 264.16 646.11 Q262.45 648.61 259.84 650.24 Q257.22 651.88 254.16 652.21 Q251.10 652.54 248.19 651.86 Q245.28 651.18 242.86 649.57 Q240.43 647.95 238.87 645.59 Q237.30 643.23 236.28 640.50 Q235.27 637.77 235.34 634.67 Q235.42 631.57 237.51 629.18 Q239.60 626.79 242.47 625.66 Q245.35 624.52 248.23 623.87 Q251.10 623.22 254.08 623.62 Q257.07 624.02 259.46 625.76 Q261.85 627.51 263.57 629.83 Q265.29 632.16 266.14 634.96Z" fill="#f01818" filter="url(#speck)"/>
</g>
<clipPath id="c39"><rect x="276.00" y="617.20" width="37.40" height="37.40"/></clipPath>
<g clip-path="url(#c39)">
<rect x="276.00" y="617.20" width="37.40" height="37.40" fill="#060000"/>
<path d="M311.36 632.52 Q311.69 635.90 310.62 638.97 Q309.55 642.05 307.88 644.73 Q306.22 647.42 303.60 649.25 Q300.99 651.08 297.84 651.46 Q294.70 651.83 291.64 651.26 Q288.57 650.69 285.78 649.15 Q282.99 647.61 281.10 644.96 Q279.21 642.32 278.49 639.11 Q277.78 635.90 278.37 632.64 Q278.96 629.38 280.96 626.77 Q282.96 624.16 285.77 622.66 Q288.59 621.16 291.65 620.75 Q294.70 620.35 297.70 620.87 Q300.71 621.39 303.64 622.71 Q306.57 624.03 308.80 626.58 Q311.02 629.14 311.36 632.52Z" fill="#4e0808" filter="url(#texR)"/>
<path d="M310.53 632.69 Q310.84 635.90 309.82 638.82 Q308.80 641.74 307.22 644.29 Q305.64 646.84 303.16 648.58 Q300.67 650.32 297.69 650.68 Q294.70 651.04 291.79 650.50 Q288.88 649.95 286.23 648.49 Q283.57 647.03 281.78 644.51 Q279.99 641.99 279.30 638.95 Q278.62 635.90 279.18 632.80 Q279.74 629.70 281.64 627.22 Q283.54 624.74 286.22 623.32 Q288.90 621.89 291.80 621.51 Q294.70 621.13 297.55 621.62 Q300.41 622.12 303.19 623.37 Q305.98 624.62 308.09 627.05 Q310.21 629.48 310.53 632.69Z" fill="#ff2020" filter="url(#speck)"/>
</g>
<clipPath id="c40"><rect x="189.30" y="659.00" width="37.40" height="37.40"/></clipPath>
<g clip-path="url(#c40)">
<rect x="189.30" y="659.00" width="37.40" height="37.40" fill="#02021e"/>
<g fill="#2026ff" filter="url(#texB)"><ellipse cx="208.00" cy="677.70" rx="12.82" ry="10.80"/><circle cx="200.59" cy="674.21" r="5.47"/><circle cx="216.37" cy="674.05" r="4.91"/><circle cx="209.90" cy="684.75" r="4.22"/><circle cx="204.97" cy="670.97" r="5.48"/><circle cx="215.67" cy="680.76" r="3.85"/><circle cx="209.13" cy="670.12" r="4.56"/><circle cx="203.40" cy="685.19" r="4.43"/><circle cx="210.41" cy="685.26" r="4.25"/></g>
<ellipse cx="212.85" cy="681.76" rx="4.48" ry="4.07" fill="#0c10a0" filter="url(#bl10)" opacity="0.55"/>
<ellipse cx="207.03" cy="680.77" rx="4.69" ry="3.96" fill="#0c10a0" filter="url(#bl10)" opacity="0.55"/>
</g>
<clipPath id="c41"><rect x="232.40" y="659.00" width="37.40" height="37.40"/></clipPath>
<g clip-path="url(#c41)">
<rect x="232.40" y="659.00" width="37.40" height="37.40" fill="#02021e"/>
<g fill="#2026ff" filter="url(#texB)"><ellipse cx="251.10" cy="679.57" rx="12.82" ry="10.12"/><circle cx="257.03" cy="685.86" r="3.75"/><circle cx="248.79" cy="671.96" r="4.12"/><circle cx="243.88" cy="674.38" r="3.53"/><circle cx="241.33" cy="678.09" r="4.35"/><circle cx="258.62" cy="673.96" r="4.11"/><circle cx="252.30" cy="686.02" r="4.86"/><circle cx="247.44" cy="672.30" r="4.22"/><circle cx="242.52" cy="679.53" r="4.37"/></g>
<ellipse cx="248.61" cy="679.41" rx="4.38" ry="2.82" fill="#0c10a0" filter="url(#bl10)" opacity="0.55"/>
<ellipse cx="248.16" cy="677.70" rx="4.42" ry="4.23" fill="#0c10a0" filter="url(#bl10)" opacity="0.55"/>
</g>
<clipPath id="c42"><rect x="276.00" y="659.00" width="37.40" height="37.40"/></clipPath>
<g clip-path="url(#c42)">
<rect x="276.00" y="659.00" width="37.40" height="37.40" fill="#02021e"/>
<g fill="#2026ff" filter="url(#texB)"><ellipse cx="294.70" cy="677.70" rx="10.80" ry="13.49"/><circle cx="302.54" cy="676.40" r="5.01"/><circle cx="294.02" cy="668.73" r="3.83"/><circle cx="289.16" cy="672.48" r="4.39"/><circle cx="301.71" cy="670.42" r="3.90"/><circle cx="300.98" cy="682.16" r="5.21"/><circle cx="301.85" cy="679.10" r="3.88"/><circle cx="300.33" cy="684.98" r="4.02"/><circle cx="287.37" cy="683.56" r="5.02"/></g>
<ellipse cx="293.07" cy="676.01" rx="3.30" ry="3.81" fill="#0c10a0" filter="url(#bl10)" opacity="0.55"/>
<ellipse cx="294.21" cy="681.09" rx="4.29" ry="4.00" fill="#0c10a0" filter="url(#bl10)" opacity="0.55"/>
</g>
<g fill="#231f20" stroke-width="0">
<text x="10.50" y="16.70" font-size="11.6" font-weight="bold" fill="#000" stroke="#000" stroke-width="0.45">A</text>
<text x="85.40" y="28.00" font-size="9.2" text-anchor="middle" textLength="78.7" lengthAdjust="spacingAndGlyphs" class="t">CD34+ sAML blasts</text>
<text x="85.20" y="38.40" font-size="9.2" text-anchor="middle" textLength="33.3" lengthAdjust="spacingAndGlyphs" class="t">sensitive</text>
<text x="64.00" y="46.90" font-size="6.6" textLength="20" lengthAdjust="spacingAndGlyphs" class="t">N = 18</text>
<line x1="48.60" y1="42.00" x2="48.60" y2="109.10" stroke="#000" stroke-width="1.0"/>
<line x1="45.60" y1="45.20" x2="48.60" y2="45.20" stroke="#000" stroke-width="0.8"/>
<text x="43.00" y="47.65" font-size="7.0" text-anchor="end" class="t">100</text>
<line x1="45.60" y1="58.00" x2="48.60" y2="58.00" stroke="#000" stroke-width="0.8"/>
<text x="43.00" y="60.45" font-size="7.0" text-anchor="end" class="t">80</text>
<line x1="45.60" y1="70.60" x2="48.60" y2="70.60" stroke="#000" stroke-width="0.8"/>
<text x="43.00" y="73.05" font-size="7.0" text-anchor="end" class="t">60</text>
<line x1="45.60" y1="83.30" x2="48.60" y2="83.30" stroke="#000" stroke-width="0.8"/>
<text x="43.00" y="85.75" font-size="7.0" text-anchor="end" class="t">40</text>
<line x1="45.60" y1="96.00" x2="48.60" y2="96.00" stroke="#000" stroke-width="0.8"/>
<text x="43.00" y="98.45" font-size="7.0" text-anchor="end" class="t">20</text>
<line x1="45.60" y1="108.60" x2="48.60" y2="108.60" stroke="#000" stroke-width="0.8"/>
<text x="43.00" y="111.05" font-size="7.0" text-anchor="end" class="t">0</text>
<line x1="48.10" y1="108.80" x2="121.70" y2="108.80" stroke="#000" stroke-width="1.0"/>
<line x1="56.00" y1="108.80" x2="56.00" y2="111.20" stroke="#000" stroke-width="0.8"/>
<line x1="70.40" y1="108.80" x2="70.40" y2="111.20" stroke="#000" stroke-width="0.8"/>
<line x1="85.00" y1="108.80" x2="85.00" y2="111.20" stroke="#000" stroke-width="0.8"/>
<line x1="99.30" y1="108.80" x2="99.30" y2="111.20" stroke="#000" stroke-width="0.8"/>
<line x1="114.40" y1="108.80" x2="114.40" y2="111.20" stroke="#000" stroke-width="0.8"/>
<text x="59.30" y="119.00" font-size="6.7" text-anchor="end" transform="rotate(-45 59.30 119.00)" class="t">0</text>
<text x="73.70" y="119.00" font-size="6.7" text-anchor="end" transform="rotate(-45 73.70 119.00)" class="t">250</text>
<text x="88.30" y="119.00" font-size="6.7" text-anchor="end" transform="rotate(-45 88.30 119.00)" class="t">500</text>
<text x="102.60" y="119.00" font-size="6.7" text-anchor="end" transform="rotate(-45 102.60 119.00)" class="t">1000</text>
<text x="117.70" y="119.00" font-size="6.7" text-anchor="end" transform="rotate(-45 117.70 119.00)" class="t">2000</text>
<text x="85.30" y="140.50" font-size="8.6" text-anchor="middle" textLength="61" lengthAdjust="spacingAndGlyphs" class="t">nM, OTX015, 48 hrs</text>
<text x="26.90" y="75.60" font-size="9.6" text-anchor="middle" textLength="55.4" lengthAdjust="spacingAndGlyphs" transform="rotate(-90 26.90 75.60)" class="t">% non-viable cells</text>
<circle cx="56.02" cy="98.84" r="1.35" fill="#be0018" stroke="#000" stroke-width="0.65"/>
<circle cx="53.89" cy="102.11" r="1.35" fill="#be0018" stroke="#000" stroke-width="0.65"/>
<circle cx="56.35" cy="102.44" r="1.35" fill="#be0018" stroke="#000" stroke-width="0.65"/>
<circle cx="59.12" cy="103.26" r="1.35" fill="#be0018" stroke="#000" stroke-width="0.65"/>
<circle cx="52.26" cy="104.07" r="1.35" fill="#be0018" stroke="#000" stroke-width="0.65"/>
<circle cx="55.04" cy="104.56" r="1.35" fill="#be0018" stroke="#000" stroke-width="0.65"/>
<circle cx="57.65" cy="105.05" r="1.35" fill="#be0018" stroke="#000" stroke-width="0.65"/>
<circle cx="56.02" cy="106.69" r="1.35" fill="#be0018" stroke="#000" stroke-width="0.65"/>
<circle cx="56.84" cy="108.32" r="1.35" fill="#be0018" stroke="#000" stroke-width="0.65"/>
<circle cx="69.09" cy="89.85" r="1.35" fill="#be0018" stroke="#000" stroke-width="0.65"/>
<circle cx="71.06" cy="91.00" r="1.35" fill="#be0018" stroke="#000" stroke-width="0.65"/>
<circle cx="72.69" cy="93.12" r="1.35" fill="#be0018" stroke="#000" stroke-width="0.65"/>
<circle cx="67.79" cy="93.94" r="1.35" fill="#be0018" stroke="#000" stroke-width="0.65"/>
<circle cx="73.51" cy="94.76" r="1.35" fill="#be0018" stroke="#000" stroke-width="0.65"/>
<circle cx="69.42" cy="96.39" r="1.35" fill="#be0018" stroke="#000" stroke-width="0.65"/>
<circle cx="67.46" cy="98.03" r="1.35" fill="#be0018" stroke="#000" stroke-width="0.65"/>
<circle cx="71.87" cy="97.21" r="1.35" fill="#be0018" stroke="#000" stroke-width="0.65"/>
<circle cx="70.24" cy="99.66" r="1.35" fill="#be0018" stroke="#000" stroke-width="0.65"/>
<circle cx="68.60" cy="100.80" r="1.35" fill="#be0018" stroke="#000" stroke-width="0.65"/>
<circle cx="71.38" cy="102.44" r="1.35" fill="#be0018" stroke="#000" stroke-width="0.65"/>
<circle cx="69.42" cy="98.84" r="1.35" fill="#be0018" stroke="#000" stroke-width="0.65"/>
<circle cx="72.69" cy="96.39" r="1.35" fill="#be0018" stroke="#000" stroke-width="0.65"/>
<circle cx="85.44" cy="76.29" r="1.35" fill="#be0018" stroke="#000" stroke-width="0.65"/>
<circle cx="84.95" cy="84.46" r="1.35" fill="#be0018" stroke="#000" stroke-width="0.65"/>
<circle cx="82.82" cy="86.09" r="1.35" fill="#be0018" stroke="#000" stroke-width="0.65"/>
<circle cx="87.40" cy="87.40" r="1.35" fill="#be0018" stroke="#000" stroke-width="0.65"/>
<circle cx="84.13" cy="88.22" r="1.35" fill="#be0018" stroke="#000" stroke-width="0.65"/>
<circle cx="81.68" cy="89.04" r="1.35" fill="#be0018" stroke="#000" stroke-width="0.65"/>
<circle cx="86.58" cy="89.85" r="1.35" fill="#be0018" stroke="#000" stroke-width="0.65"/>
<circle cx="83.81" cy="91.00" r="1.35" fill="#be0018" stroke="#000" stroke-width="0.65"/>
<circle cx="87.89" cy="91.98" r="1.35" fill="#be0018" stroke="#000" stroke-width="0.65"/>
<circle cx="83.31" cy="93.12" r="1.35" fill="#be0018" stroke="#000" stroke-width="0.65"/>
<circle cx="84.95" cy="94.76" r="1.35" fill="#be0018" stroke="#000" stroke-width="0.65"/>
<circle cx="85.77" cy="97.54" r="1.35" fill="#be0018" stroke="#000" stroke-width="0.65"/>
<circle cx="82.17" cy="92.30" r="1.35" fill="#be0018" stroke="#000" stroke-width="0.65"/>
<circle cx="99.66" cy="64.52" r="1.35" fill="#be0018" stroke="#000" stroke-width="0.65"/>
<circle cx="98.84" cy="67.46" r="1.35" fill="#be0018" stroke="#000" stroke-width="0.65"/>
<circle cx="100.80" cy="69.75" r="1.35" fill="#be0018" stroke="#000" stroke-width="0.65"/>
<circle cx="98.03" cy="71.87" r="1.35" fill="#be0018" stroke="#000" stroke-width="0.65"/>
<circle cx="101.29" cy="72.69" r="1.35" fill="#be0018" stroke="#000" stroke-width="0.65"/>
<circle cx="97.21" cy="74.32" r="1.35" fill="#be0018" stroke="#000" stroke-width="0.65"/>
<circle cx="100.15" cy="75.14" r="1.35" fill="#be0018" stroke="#000" stroke-width="0.65"/>
<circle cx="98.84" cy="77.92" r="1.35" fill="#be0018" stroke="#000" stroke-width="0.65"/>
<circle cx="96.39" cy="83.31" r="1.35" fill="#be0018" stroke="#000" stroke-width="0.65"/>
<circle cx="97.54" cy="84.46" r="1.35" fill="#be0018" stroke="#000" stroke-width="0.65"/>
<circle cx="99.66" cy="84.95" r="1.35" fill="#be0018" stroke="#000" stroke-width="0.65"/>
<circle cx="100.80" cy="86.58" r="1.35" fill="#be0018" stroke="#000" stroke-width="0.65"/>
<circle cx="102.11" cy="88.22" r="1.35" fill="#be0018" stroke="#000" stroke-width="0.65"/>
<circle cx="102.93" cy="89.85" r="1.35" fill="#be0018" stroke="#000" stroke-width="0.65"/>
<circle cx="99.17" cy="89.04" r="1.35" fill="#be0018" stroke="#000" stroke-width="0.65"/>
<circle cx="96.88" cy="86.58" r="1.35" fill="#be0018" stroke="#000" stroke-width="0.65"/>
<circle cx="111.92" cy="65.83" r="1.35" fill="#be0018" stroke="#000" stroke-width="0.65"/>
<circle cx="114.37" cy="66.97" r="1.35" fill="#be0018" stroke="#000" stroke-width="0.65"/>
<circle cx="116.01" cy="69.75" r="1.35" fill="#be0018" stroke="#000" stroke-width="0.65"/>
<circle cx="116.82" cy="71.87" r="1.35" fill="#be0018" stroke="#000" stroke-width="0.65"/>
<circle cx="112.74" cy="74.32" r="1.35" fill="#be0018" stroke="#000" stroke-width="0.65"/>
<circle cx="115.19" cy="74.32" r="1.35" fill="#be0018" stroke="#000" stroke-width="0.65"/>
<circle cx="111.92" cy="83.31" r="1.35" fill="#be0018" stroke="#000" stroke-width="0.65"/>
<circle cx="114.37" cy="84.13" r="1.35" fill="#be0018" stroke="#000" stroke-width="0.65"/>
<circle cx="116.50" cy="84.95" r="1.35" fill="#be0018" stroke="#000" stroke-width="0.65"/>
<circle cx="117.64" cy="85.77" r="1.35" fill="#be0018" stroke="#000" stroke-width="0.65"/>
<line x1="50.80" y1="102.93" x2="61.20" y2="102.93" stroke="#000" stroke-width="1.1"/>
<line x1="65.20" y1="96.39" x2="75.60" y2="96.39" stroke="#000" stroke-width="1.1"/>
<line x1="79.80" y1="89.04" x2="90.20" y2="89.04" stroke="#000" stroke-width="1.1"/>
<line x1="94.10" y1="80.37" x2="104.50" y2="80.37" stroke="#000" stroke-width="1.1"/>
<line x1="109.20" y1="75.96" x2="119.60" y2="75.96" stroke="#000" stroke-width="1.1"/>
<text x="85.70" y="166.80" font-size="9.2" text-anchor="middle" textLength="78.7" lengthAdjust="spacingAndGlyphs" class="t">CD34+ sAML blasts</text>
<text x="85.30" y="177.00" font-size="9.2" text-anchor="middle" textLength="32.9" lengthAdjust="spacingAndGlyphs" class="t">resistant</text>
<text x="63.80" y="187.50" font-size="6.6" textLength="20.3" lengthAdjust="spacingAndGlyphs" class="t">N = 17</text>
<line x1="48.80" y1="182.30" x2="48.80" y2="251.60" stroke="#000" stroke-width="1.0"/>
<line x1="45.80" y1="185.20" x2="48.80" y2="185.20" stroke="#000" stroke-width="0.8"/>
<text x="43.00" y="187.65" font-size="7.0" text-anchor="end" class="t">100</text>
<line x1="45.80" y1="198.50" x2="48.80" y2="198.50" stroke="#000" stroke-width="0.8"/>
<text x="43.00" y="200.95" font-size="7.0" text-anchor="end" class="t">80</text>
<line x1="45.80" y1="211.50" x2="48.80" y2="211.50" stroke="#000" stroke-width="0.8"/>
<text x="43.00" y="213.95" font-size="7.0" text-anchor="end" class="t">60</text>
<line x1="45.80" y1="224.80" x2="48.80" y2="224.80" stroke="#000" stroke-width="0.8"/>
<text x="43.00" y="227.25" font-size="7.0" text-anchor="end" class="t">40</text>
<line x1="45.80" y1="238.00" x2="48.80" y2="238.00" stroke="#000" stroke-width="0.8"/>
<text x="43.00" y="240.45" font-size="7.0" text-anchor="end" class="t">20</text>
<line x1="45.80" y1="251.10" x2="48.80" y2="251.10" stroke="#000" stroke-width="0.8"/>
<text x="43.00" y="253.55" font-size="7.0" text-anchor="end" class="t">0</text>
<line x1="48.30" y1="251.30" x2="121.70" y2="251.30" stroke="#000" stroke-width="1.0"/>
<line x1="56.00" y1="251.30" x2="56.00" y2="253.70" stroke="#000" stroke-width="0.8"/>
<line x1="70.40" y1="251.30" x2="70.40" y2="253.70" stroke="#000" stroke-width="0.8"/>
<line x1="85.00" y1="251.30" x2="85.00" y2="253.70" stroke="#000" stroke-width="0.8"/>
<line x1="99.30" y1="251.30" x2="99.30" y2="253.70" stroke="#000" stroke-width="0.8"/>
<line x1="114.40" y1="251.30" x2="114.40" y2="253.70" stroke="#000" stroke-width="0.8"/>
<text x="59.30" y="261.50" font-size="6.7" text-anchor="end" transform="rotate(-45 59.30 261.50)" class="t">0</text>
<text x="73.70" y="261.50" font-size="6.7" text-anchor="end" transform="rotate(-45 73.70 261.50)" class="t">250</text>
<text x="88.30" y="261.50" font-size="6.7" text-anchor="end" transform="rotate(-45 88.30 261.50)" class="t">500</text>
<text x="102.60" y="261.50" font-size="6.7" text-anchor="end" transform="rotate(-45 102.60 261.50)" class="t">1000</text>
<text x="117.70" y="261.50" font-size="6.7" text-anchor="end" transform="rotate(-45 117.70 261.50)" class="t">2000</text>
<text x="85.90" y="283.90" font-size="9.4" text-anchor="middle" textLength="68" lengthAdjust="spacingAndGlyphs" class="t">nM, OTX015, 48 hrs</text>
<text x="27.10" y="216.90" font-size="9.6" text-anchor="middle" textLength="55.8" lengthAdjust="spacingAndGlyphs" transform="rotate(-90 27.10 216.90)" class="t">% non-viable cells</text>
<circle cx="56.02" cy="244.56" r="1.35" fill="#be0018" stroke="#000" stroke-width="0.65"/>
<circle cx="54.38" cy="245.71" r="1.35" fill="#be0018" stroke="#000" stroke-width="0.65"/>
<circle cx="57.16" cy="245.38" r="1.35" fill="#be0018" stroke="#000" stroke-width="0.65"/>
<circle cx="58.80" cy="246.69" r="1.35" fill="#be0018" stroke="#000" stroke-width="0.65"/>
<circle cx="53.08" cy="247.34" r="1.35" fill="#be0018" stroke="#000" stroke-width="0.65"/>
<circle cx="55.53" cy="247.02" r="1.35" fill="#be0018" stroke="#000" stroke-width="0.65"/>
<circle cx="57.98" cy="247.83" r="1.35" fill="#be0018" stroke="#000" stroke-width="0.65"/>
<circle cx="52.75" cy="248.65" r="1.35" fill="#be0018" stroke="#000" stroke-width="0.65"/>
<circle cx="56.35" cy="248.98" r="1.35" fill="#be0018" stroke="#000" stroke-width="0.65"/>
<circle cx="59.29" cy="249.47" r="1.35" fill="#be0018" stroke="#000" stroke-width="0.65"/>
<circle cx="70.73" cy="238.03" r="1.35" fill="#be0018" stroke="#000" stroke-width="0.65"/>
<circle cx="71.38" cy="240.15" r="1.35" fill="#be0018" stroke="#000" stroke-width="0.65"/>
<circle cx="69.42" cy="241.78" r="1.35" fill="#be0018" stroke="#000" stroke-width="0.65"/>
<circle cx="67.79" cy="244.07" r="1.35" fill="#be0018" stroke="#000" stroke-width="0.65"/>
<circle cx="72.69" cy="243.42" r="1.35" fill="#be0018" stroke="#000" stroke-width="0.65"/>
<circle cx="70.24" cy="244.56" r="1.35" fill="#be0018" stroke="#000" stroke-width="0.65"/>
<circle cx="73.51" cy="245.38" r="1.35" fill="#be0018" stroke="#000" stroke-width="0.65"/>
<circle cx="68.11" cy="246.20" r="1.35" fill="#be0018" stroke="#000" stroke-width="0.65"/>
<circle cx="71.87" cy="247.02" r="1.35" fill="#be0018" stroke="#000" stroke-width="0.65"/>
<circle cx="74.32" cy="247.02" r="1.35" fill="#be0018" stroke="#000" stroke-width="0.65"/>
<circle cx="85.44" cy="234.76" r="1.35" fill="#be0018" stroke="#000" stroke-width="0.65"/>
<circle cx="84.13" cy="239.17" r="1.35" fill="#be0018" stroke="#000" stroke-width="0.65"/>
<circle cx="86.58" cy="240.15" r="1.35" fill="#be0018" stroke="#000" stroke-width="0.65"/>
<circle cx="85.44" cy="241.29" r="1.35" fill="#be0018" stroke="#000" stroke-width="0.65"/>
<circle cx="82.50" cy="242.11" r="1.35" fill="#be0018" stroke="#000" stroke-width="0.65"/>
<circle cx="87.40" cy="242.11" r="1.35" fill="#be0018" stroke="#000" stroke-width="0.65"/>
<circle cx="83.31" cy="243.75" r="1.35" fill="#be0018" stroke="#000" stroke-width="0.65"/>
<circle cx="89.04" cy="244.56" r="1.35" fill="#be0018" stroke="#000" stroke-width="0.65"/>
<circle cx="85.77" cy="243.75" r="1.35" fill="#be0018" stroke="#000" stroke-width="0.65"/>
<circle cx="89.04" cy="246.20" r="1.35" fill="#be0018" stroke="#000" stroke-width="0.65"/>
<circle cx="99.66" cy="231.98" r="1.35" fill="#be0018" stroke="#000" stroke-width="0.65"/>
<circle cx="100.80" cy="234.76" r="1.35" fill="#be0018" stroke="#000" stroke-width="0.65"/>
<circle cx="98.03" cy="236.39" r="1.35" fill="#be0018" stroke="#000" stroke-width="0.65"/>
<circle cx="98.84" cy="238.03" r="1.35" fill="#be0018" stroke="#000" stroke-width="0.65"/>
<circle cx="102.11" cy="238.03" r="1.35" fill="#be0018" stroke="#000" stroke-width="0.65"/>
<circle cx="104.07" cy="238.84" r="1.35" fill="#be0018" stroke="#000" stroke-width="0.65"/>
<circle cx="96.39" cy="239.66" r="1.35" fill="#be0018" stroke="#000" stroke-width="0.65"/>
<circle cx="100.48" cy="241.29" r="1.35" fill="#be0018" stroke="#000" stroke-width="0.65"/>
<circle cx="100.15" cy="242.93" r="1.35" fill="#be0018" stroke="#000" stroke-width="0.65"/>
<circle cx="100.80" cy="246.69" r="1.35" fill="#be0018" stroke="#000" stroke-width="0.65"/>
<circle cx="112.74" cy="230.67" r="1.35" fill="#be0018" stroke="#000" stroke-width="0.65"/>
<circle cx="115.19" cy="229.36" r="1.35" fill="#be0018" stroke="#000" stroke-width="0.65"/>
<circle cx="117.15" cy="229.36" r="1.35" fill="#be0018" stroke="#000" stroke-width="0.65"/>
<circle cx="111.92" cy="235.57" r="1.35" fill="#be0018" stroke="#000" stroke-width="0.65"/>
<circle cx="116.50" cy="236.39" r="1.35" fill="#be0018" stroke="#000" stroke-width="0.65"/>
<circle cx="114.37" cy="237.21" r="1.35" fill="#be0018" stroke="#000" stroke-width="0.65"/>
<circle cx="118.46" cy="238.84" r="1.35" fill="#be0018" stroke="#000" stroke-width="0.65"/>
<circle cx="116.82" cy="239.66" r="1.35" fill="#be0018" stroke="#000" stroke-width="0.65"/>
<circle cx="114.86" cy="245.71" r="1.35" fill="#be0018" stroke="#000" stroke-width="0.65"/>
<line x1="50.80" y1="247.02" x2="61.20" y2="247.02" stroke="#000" stroke-width="1.1"/>
<line x1="65.20" y1="244.24" x2="75.60" y2="244.24" stroke="#000" stroke-width="1.1"/>
<line x1="79.80" y1="241.29" x2="90.20" y2="241.29" stroke="#000" stroke-width="1.1"/>
<line x1="94.10" y1="237.21" x2="104.50" y2="237.21" stroke="#000" stroke-width="1.1"/>
<line x1="109.20" y1="235.57" x2="119.60" y2="235.57" stroke="#000" stroke-width="1.1"/>
<text x="145.20" y="17.10" font-size="11.6" font-weight="bold" fill="#000" stroke="#000" stroke-width="0.45">B</text>
<text x="221.60" y="26.00" font-size="9.2" text-anchor="middle" textLength="78.3" lengthAdjust="spacingAndGlyphs" class="t">CD34+ sAML blasts</text>
<line x1="190.00" y1="42.50" x2="190.00" y2="109.90" stroke="#000" stroke-width="1.0"/>
<line x1="187.00" y1="44.50" x2="190.00" y2="44.50" stroke="#000" stroke-width="0.8"/>
<text x="183.90" y="46.95" font-size="7.0" text-anchor="end" class="t">120</text>
<line x1="187.00" y1="55.28" x2="190.00" y2="55.28" stroke="#000" stroke-width="0.8"/>
<text x="183.90" y="57.73" font-size="7.0" text-anchor="end" class="t">100</text>
<line x1="187.00" y1="66.07" x2="190.00" y2="66.07" stroke="#000" stroke-width="0.8"/>
<text x="183.90" y="68.52" font-size="7.0" text-anchor="end" class="t">80</text>
<line x1="187.00" y1="76.85" x2="190.00" y2="76.85" stroke="#000" stroke-width="0.8"/>
<text x="183.90" y="79.30" font-size="7.0" text-anchor="end" class="t">60</text>
<line x1="187.00" y1="87.63" x2="190.00" y2="87.63" stroke="#000" stroke-width="0.8"/>
<text x="183.90" y="90.08" font-size="7.0" text-anchor="end" class="t">40</text>
<line x1="187.00" y1="98.42" x2="190.00" y2="98.42" stroke="#000" stroke-width="0.8"/>
<text x="183.90" y="100.87" font-size="7.0" text-anchor="end" class="t">20</text>
<line x1="187.00" y1="109.20" x2="190.00" y2="109.20" stroke="#000" stroke-width="0.8"/>
<text x="183.90" y="111.65" font-size="7.0" text-anchor="end" class="t">0</text>
<line x1="189.50" y1="109.40" x2="252.50" y2="109.40" stroke="#000" stroke-width="1.0"/>
<line x1="207.80" y1="109.40" x2="207.80" y2="111.60" stroke="#000" stroke-width="0.8"/>
<line x1="234.60" y1="109.40" x2="234.60" y2="111.60" stroke="#000" stroke-width="0.8"/>
<text x="208.00" y="120.80" font-size="7.0" text-anchor="middle" textLength="14.2" lengthAdjust="spacingAndGlyphs" class="t">Sens</text>
<text x="235.20" y="120.80" font-size="7.0" text-anchor="middle" textLength="17.0" lengthAdjust="spacingAndGlyphs" class="t">Resist</text>
<text x="205.00" y="46.80" font-size="7.2" textLength="16.6" lengthAdjust="spacingAndGlyphs" class="t">N=11</text>
<path d="M207.8 59.5 V55.3 H234.6 V59.5 M221.2 55.3 V52.0" fill="none" stroke="#000" stroke-width="0.8"/>
<text x="221.40" y="53.50" font-size="6.4" text-anchor="middle" textLength="9.6" lengthAdjust="spacingAndGlyphs" class="t">****</text>
<text x="156.40" y="76.50" font-size="9.0" text-anchor="middle" textLength="41.0" lengthAdjust="spacingAndGlyphs" transform="rotate(-90 156.40 76.50)" class="t">TCF7L2 mean</text>
<text x="167.00" y="76.50" font-size="9.0" text-anchor="middle" textLength="67.7" lengthAdjust="spacingAndGlyphs" transform="rotate(-90 167.00 76.50)" class="t">fluorescence intensity</text>
<text x="221.60" y="167.50" font-size="9.2" text-anchor="middle" textLength="78.3" lengthAdjust="spacingAndGlyphs" class="t">CD34+ sAML blasts</text>
<line x1="190.00" y1="184.20" x2="190.00" y2="251.90" stroke="#000" stroke-width="1.0"/>
<line x1="187.00" y1="186.60" x2="190.00" y2="186.60" stroke="#000" stroke-width="0.8"/>
<text x="183.90" y="189.05" font-size="7.0" text-anchor="end" class="t">120</text>
<line x1="187.00" y1="197.37" x2="190.00" y2="197.37" stroke="#000" stroke-width="0.8"/>
<text x="183.90" y="199.82" font-size="7.0" text-anchor="end" class="t">100</text>
<line x1="187.00" y1="208.13" x2="190.00" y2="208.13" stroke="#000" stroke-width="0.8"/>
<text x="183.90" y="210.58" font-size="7.0" text-anchor="end" class="t">80</text>
<line x1="187.00" y1="218.90" x2="190.00" y2="218.90" stroke="#000" stroke-width="0.8"/>
<text x="183.90" y="221.35" font-size="7.0" text-anchor="end" class="t">60</text>
<line x1="187.00" y1="229.67" x2="190.00" y2="229.67" stroke="#000" stroke-width="0.8"/>
<text x="183.90" y="232.12" font-size="7.0" text-anchor="end" class="t">40</text>
<line x1="187.00" y1="240.43" x2="190.00" y2="240.43" stroke="#000" stroke-width="0.8"/>
<text x="183.90" y="242.88" font-size="7.0" text-anchor="end" class="t">20</text>
<line x1="187.00" y1="251.20" x2="190.00" y2="251.20" stroke="#000" stroke-width="0.8"/>
<text x="183.90" y="253.65" font-size="7.0" text-anchor="end" class="t">0</text>
<line x1="189.50" y1="251.40" x2="252.50" y2="251.40" stroke="#000" stroke-width="1.0"/>
<line x1="207.80" y1="251.40" x2="207.80" y2="253.60" stroke="#000" stroke-width="0.8"/>
<line x1="234.60" y1="251.40" x2="234.60" y2="253.60" stroke="#000" stroke-width="0.8"/>
<text x="208.00" y="263.30" font-size="7.0" text-anchor="middle" textLength="14.2" lengthAdjust="spacingAndGlyphs" class="t">Sens</text>
<text x="235.20" y="263.30" font-size="7.0" text-anchor="middle" textLength="17.0" lengthAdjust="spacingAndGlyphs" class="t">Resist</text>
<text x="201.60" y="187.20" font-size="7.2" textLength="16.6" lengthAdjust="spacingAndGlyphs" class="t">N=11</text>
<path d="M207.8 203.8 V199.2 H234.6 V203.8 M221.2 199.2 V196.2" fill="none" stroke="#000" stroke-width="0.8"/>
<text x="221.40" y="196.00" font-size="6.4" text-anchor="middle" textLength="9.6" lengthAdjust="spacingAndGlyphs" class="t">****</text>
<text x="156.40" y="217.50" font-size="9.0" text-anchor="middle" textLength="42.5" lengthAdjust="spacingAndGlyphs" transform="rotate(-90 156.40 217.50)" class="t">JMJD6 mean</text>
<text x="167.00" y="217.50" font-size="9.0" text-anchor="middle" textLength="67.5" lengthAdjust="spacingAndGlyphs" transform="rotate(-90 167.00 217.50)" class="t">fluorescence intensity</text>
<path d="M234.60 62.90 L234.30 62.90 L233.20 63.30 L232.40 64.30 L232.20 65.80 L232.60 67.50 L233.30 69.20 L232.70 70.40 L232.50 72.50 L233.00 74.50 L233.40 76.00 L233.40 80.00 L233.10 84.50 L231.80 87.00 L229.80 89.50 L227.80 91.50 L226.10 93.20 L226.00 94.20 L227.20 95.50 L228.10 96.80 L227.60 98.00 L227.50 98.80 L228.40 100.20 L230.00 101.60 L231.60 102.60 L233.80 103.20 L235.40 103.20 L237.60 102.60 L239.20 101.60 L240.80 100.20 L241.70 98.80 L241.60 98.00 L241.10 96.80 L242.00 95.50 L243.20 94.20 L243.10 93.20 L241.40 91.50 L239.40 89.50 L237.40 87.00 L236.10 84.50 L235.80 80.00 L235.80 76.00 L236.20 74.50 L236.70 72.50 L236.50 70.40 L235.90 69.20 L236.60 67.50 L237.00 65.80 L236.80 64.30 L236.00 63.30 L234.90 62.90 Z" fill="#b0102c" stroke="#111" stroke-width="0.85" stroke-linejoin="round"/>
<line x1="230.00" y1="92.80" x2="239.40" y2="92.80" stroke="#1a0a0a" stroke-width="0.9" stroke-dasharray="1.6 1.2"/>
<line x1="230.00" y1="96.60" x2="239.40" y2="96.60" stroke="#1a0a0a" stroke-width="0.9" stroke-dasharray="1.6 1.2"/>
<path d="M207.80 99.40 L207.50 99.40 L206.40 100.30 L205.40 101.60 L205.20 103.10 L205.80 104.30 L206.00 104.90 L204.80 105.80 L203.60 106.80 L203.20 107.60 L200.80 108.20 L198.80 108.80 L207.30 109.00 L208.30 109.00 L216.80 108.80 L214.80 108.20 L212.40 107.60 L212.00 106.80 L210.80 105.80 L209.60 104.90 L209.80 104.30 L210.40 103.10 L210.20 101.60 L209.20 100.30 L208.10 99.40 Z" fill="#6cb0e4" stroke="#111" stroke-width="0.85" stroke-linejoin="round"/>
<line x1="206.00" y1="103.00" x2="209.60" y2="103.00" stroke="#1a0a0a" stroke-width="0.7" stroke-dasharray="1.2 1"/>
<line x1="234.40" y1="207.90" x2="234.40" y2="246.60" stroke="#000" stroke-width="0.8"/>
<path d="M234.40 213.20 L234.00 213.20 L232.20 214.20 L229.80 215.80 L228.10 217.50 L228.60 219.00 L230.00 220.50 L230.70 221.70 L229.60 223.20 L227.40 225.20 L225.90 227.20 L225.90 228.60 L227.20 230.40 L229.00 232.20 L230.40 234.50 L231.10 236.50 L232.00 238.80 L233.90 240.70 L234.90 240.70 L236.80 238.80 L237.70 236.50 L238.40 234.50 L239.80 232.20 L241.60 230.40 L242.90 228.60 L242.90 227.20 L241.40 225.20 L239.20 223.20 L238.10 221.70 L238.80 220.50 L240.20 219.00 L240.70 217.50 L239.00 215.80 L236.60 214.20 L234.80 213.20 Z" fill="#b0102c" stroke="#111" stroke-width="0.85" stroke-linejoin="round"/>
<line x1="229.60" y1="219.90" x2="239.40" y2="219.90" stroke="#1a0a0a" stroke-width="0.9" stroke-dasharray="1.6 1.2"/>
<line x1="229.60" y1="227.30" x2="239.40" y2="227.30" stroke="#1a0a0a" stroke-width="0.9" stroke-dasharray="1.6 1.2"/>
<line x1="229.60" y1="231.50" x2="239.40" y2="231.50" stroke="#1a0a0a" stroke-width="0.9" stroke-dasharray="1.6 1.2"/>
<path d="M207.60 228.00 L207.30 228.00 L206.40 228.60 L205.80 229.80 L205.80 231.20 L206.40 232.80 L205.30 234.20 L204.70 236.00 L205.20 237.80 L206.00 240.20 L204.40 241.60 L201.00 243.20 L198.90 244.40 L199.40 245.40 L201.20 247.40 L202.80 249.40 L207.20 249.60 L208.00 249.60 L212.40 249.40 L214.00 247.40 L215.80 245.40 L216.30 244.40 L214.20 243.20 L210.80 241.60 L209.20 240.20 L210.00 237.80 L210.50 236.00 L209.90 234.20 L208.80 232.80 L209.40 231.20 L209.40 229.80 L208.80 228.60 L207.90 228.00 Z" fill="#6cb0e4" stroke="#111" stroke-width="0.85" stroke-linejoin="round"/>
<line x1="203.80" y1="235.80" x2="211.40" y2="235.80" stroke="#1a0a0a" stroke-width="0.9" stroke-dasharray="1.6 1.2"/>
<line x1="203.80" y1="243.40" x2="211.40" y2="243.40" stroke="#1a0a0a" stroke-width="0.9" stroke-dasharray="1.6 1.2"/>
<line x1="203.80" y1="246.30" x2="211.40" y2="246.30" stroke="#1a0a0a" stroke-width="0.9" stroke-dasharray="1.6 1.2"/>
<text x="280.60" y="17.20" font-size="11.6" font-weight="bold" fill="#000" stroke="#000" stroke-width="0.45">C</text>
<text x="414.50" y="41.20" font-size="8.8" text-anchor="middle" textLength="59.0" lengthAdjust="spacingAndGlyphs" class="t">sAML samples</text>
<line x1="325.00" y1="46.20" x2="505.00" y2="46.20" stroke="#000" stroke-width="0.9"/>
<text x="313.60" y="55.00" font-size="7.2" text-anchor="end" textLength="24.3" lengthAdjust="spacingAndGlyphs" class="t">OTX015</text>
<g transform="translate(313.6 0) scale(0.91 1) translate(-313.6 0)"><text class="t" x="313.6" y="63.1" font-size="7.2" text-anchor="end">LD<tspan font-size="4.6" dy="1.6">50</tspan><tspan dy="-1.6"> (μM)</tspan></text></g>
<text x="331.50" y="55.00" font-size="7.2" text-anchor="middle" class="t">11</text>
<text x="331.50" y="63.10" font-size="7.2" text-anchor="middle" class="t">0.70</text>
<text x="364.20" y="55.00" font-size="7.2" text-anchor="middle" class="t">10</text>
<text x="364.20" y="63.10" font-size="7.2" text-anchor="middle" class="t">0.92</text>
<text x="397.70" y="55.00" font-size="7.2" text-anchor="middle" class="t">6</text>
<text x="397.70" y="63.10" font-size="7.2" text-anchor="middle" class="t">5.10</text>
<text x="430.80" y="55.00" font-size="7.2" text-anchor="middle" class="t">7</text>
<text x="430.80" y="63.10" font-size="7.2" text-anchor="middle" class="t">9.0</text>
<text x="464.20" y="55.00" font-size="7.2" text-anchor="middle" class="t">9</text>
<text x="464.20" y="63.10" font-size="7.2" text-anchor="middle" class="t">70.6</text>
<text x="497.80" y="55.00" font-size="7.2" text-anchor="middle" class="t">2</text>
<text x="497.80" y="63.10" font-size="7.2" text-anchor="middle" class="t">176</text>
<text x="313.40" y="85.60" font-size="7.2" text-anchor="end" textLength="22.8" lengthAdjust="spacingAndGlyphs" class="t">TCF7L2</text>
<text x="313.40" y="118.60" font-size="7.2" text-anchor="end" textLength="15.2" lengthAdjust="spacingAndGlyphs" class="t">DAPI</text>
<text x="313.40" y="151.60" font-size="7.2" text-anchor="end" textLength="21.6" lengthAdjust="spacingAndGlyphs" class="t">JMJD6</text>
<text x="313.40" y="184.60" font-size="7.2" text-anchor="end" textLength="15.2" lengthAdjust="spacingAndGlyphs" class="t">DAPI</text>
<text x="10.70" y="312.40" font-size="11.6" font-weight="bold" fill="#000" stroke="#000" stroke-width="0.45">D</text>
<text x="101.60" y="323.00" font-size="9.2" text-anchor="middle" textLength="78.7" lengthAdjust="spacingAndGlyphs" class="t">CD34+ sAML blasts</text>
<text x="75.80" y="343.70" font-size="6.6" textLength="20.4" lengthAdjust="spacingAndGlyphs" class="t">N = 17</text>
<line x1="70.80" y1="339.50" x2="70.80" y2="419.80" stroke="#000" stroke-width="1.0"/>
<line x1="67.80" y1="341.80" x2="70.80" y2="341.80" stroke="#000" stroke-width="0.8"/>
<text x="64.60" y="344.25" font-size="7.0" text-anchor="end" class="t">15</text>
<line x1="67.80" y1="367.80" x2="70.80" y2="367.80" stroke="#000" stroke-width="0.8"/>
<text x="64.60" y="370.25" font-size="7.0" text-anchor="end" class="t">10</text>
<line x1="67.80" y1="393.60" x2="70.80" y2="393.60" stroke="#000" stroke-width="0.8"/>
<text x="64.60" y="396.05" font-size="7.0" text-anchor="end" class="t">5</text>
<line x1="67.80" y1="419.20" x2="70.80" y2="419.20" stroke="#000" stroke-width="0.8"/>
<text x="64.60" y="421.65" font-size="7.0" text-anchor="end" class="t">0</text>
<line x1="70.30" y1="419.40" x2="132.40" y2="419.40" stroke="#000" stroke-width="1.0"/>
<line x1="86.20" y1="419.40" x2="86.20" y2="421.60" stroke="#000" stroke-width="0.8"/>
<line x1="116.60" y1="419.40" x2="116.60" y2="421.60" stroke="#000" stroke-width="0.8"/>
<text x="86.20" y="431.40" font-size="7.0" text-anchor="middle" textLength="14.2" lengthAdjust="spacingAndGlyphs" class="t">Sens</text>
<text x="116.60" y="431.40" font-size="7.0" text-anchor="middle" textLength="17.0" lengthAdjust="spacingAndGlyphs" class="t">Resist</text>
<path d="M83.3 359.4 V356 H114.9 V359.4 M99.4 356 V353.2" fill="none" stroke="#000" stroke-width="0.8"/>
<text x="99.40" y="352.60" font-size="6.4" text-anchor="middle" class="t">*</text>
<text x="41.60" y="380.60" font-size="9.6" text-anchor="middle" textLength="43.1" lengthAdjust="spacingAndGlyphs" transform="rotate(-90 41.60 380.60)" class="t">c-Myc relative</text>
<text x="51.00" y="380.70" font-size="9.6" text-anchor="middle" textLength="57.4" lengthAdjust="spacingAndGlyphs" transform="rotate(-90 51.00 380.70)" class="t">protein expression</text>
<circle cx="86.22" cy="396.90" r="1.5" fill="#3e9c1e" stroke="#000" stroke-width="0.5"/>
<circle cx="84.36" cy="404.65" r="1.5" fill="#3e9c1e" stroke="#000" stroke-width="0.5"/>
<circle cx="87.92" cy="403.56" r="1.5" fill="#3e9c1e" stroke="#000" stroke-width="0.5"/>
<circle cx="84.36" cy="408.21" r="1.5" fill="#3e9c1e" stroke="#000" stroke-width="0.5"/>
<circle cx="87.92" cy="409.29" r="1.5" fill="#3e9c1e" stroke="#000" stroke-width="0.5"/>
<circle cx="84.36" cy="413.32" r="1.5" fill="#3e9c1e" stroke="#000" stroke-width="0.5"/>
<circle cx="87.92" cy="414.56" r="1.5" fill="#3e9c1e" stroke="#000" stroke-width="0.5"/>
<circle cx="116.88" cy="364.38" r="1.5" fill="#3e9c1e" stroke="#000" stroke-width="0.5"/>
<circle cx="123.54" cy="366.55" r="1.5" fill="#3e9c1e" stroke="#000" stroke-width="0.5"/>
<circle cx="109.91" cy="369.49" r="1.5" fill="#3e9c1e" stroke="#000" stroke-width="0.5"/>
<circle cx="116.42" cy="387.61" r="1.5" fill="#3e9c1e" stroke="#000" stroke-width="0.5"/>
<circle cx="113.32" cy="399.69" r="1.5" fill="#3e9c1e" stroke="#000" stroke-width="0.5"/>
<circle cx="120.13" cy="400.47" r="1.5" fill="#3e9c1e" stroke="#000" stroke-width="0.5"/>
<circle cx="116.42" cy="408.21" r="1.5" fill="#3e9c1e" stroke="#000" stroke-width="0.5"/>
<circle cx="116.42" cy="412.86" r="1.5" fill="#3e9c1e" stroke="#000" stroke-width="0.5"/>
<line x1="76.20" y1="407.00" x2="96.70" y2="407.00" stroke="#000" stroke-width="1.1"/>
<line x1="106.50" y1="386.10" x2="127.00" y2="386.10" stroke="#000" stroke-width="1.1"/>
<text x="180.80" y="291.60" font-size="11.6" font-weight="bold" fill="#000" stroke="#000" stroke-width="0.45">E</text>
<text x="251.20" y="301.80" font-size="9.2" text-anchor="middle" textLength="78.7" lengthAdjust="spacingAndGlyphs" class="t">CD34+ sAML blasts</text>
<text x="251.40" y="312.20" font-size="9.2" text-anchor="middle" textLength="84.7" lengthAdjust="spacingAndGlyphs" class="t">resistant (to OTX015)</text>
<text x="229.80" y="326.50" font-size="6.6" textLength="20.2" lengthAdjust="spacingAndGlyphs" class="t">N = 10</text>
<line x1="214.00" y1="318.50" x2="214.00" y2="388.00" stroke="#000" stroke-width="1.0"/>
<line x1="211.00" y1="320.90" x2="214.00" y2="320.90" stroke="#000" stroke-width="0.8"/>
<text x="208.90" y="323.35" font-size="7.0" text-anchor="end" class="t">100</text>
<line x1="211.00" y1="334.20" x2="214.00" y2="334.20" stroke="#000" stroke-width="0.8"/>
<text x="208.90" y="336.65" font-size="7.0" text-anchor="end" class="t">80</text>
<line x1="211.00" y1="347.70" x2="214.00" y2="347.70" stroke="#000" stroke-width="0.8"/>
<text x="208.90" y="350.15" font-size="7.0" text-anchor="end" class="t">60</text>
<line x1="211.00" y1="361.00" x2="214.00" y2="361.00" stroke="#000" stroke-width="0.8"/>
<text x="208.90" y="363.45" font-size="7.0" text-anchor="end" class="t">40</text>
<line x1="211.00" y1="374.40" x2="214.00" y2="374.40" stroke="#000" stroke-width="0.8"/>
<text x="208.90" y="376.85" font-size="7.0" text-anchor="end" class="t">20</text>
<line x1="211.00" y1="387.50" x2="214.00" y2="387.50" stroke="#000" stroke-width="0.8"/>
<text x="208.90" y="389.95" font-size="7.0" text-anchor="end" class="t">0</text>
<line x1="213.50" y1="387.70" x2="287.70" y2="387.70" stroke="#000" stroke-width="1.0"/>
<line x1="220.60" y1="387.70" x2="220.60" y2="389.80" stroke="#000" stroke-width="0.8"/>
<text x="220.60" y="399.00" font-size="6.8" text-anchor="middle" class="t">0</text>
<line x1="232.50" y1="387.70" x2="232.50" y2="389.80" stroke="#000" stroke-width="0.8"/>
<text x="232.50" y="399.00" font-size="6.8" text-anchor="middle" class="t">10</text>
<line x1="244.60" y1="387.70" x2="244.60" y2="389.80" stroke="#000" stroke-width="0.8"/>
<text x="244.60" y="399.00" font-size="6.8" text-anchor="middle" class="t">20</text>
<line x1="256.70" y1="387.70" x2="256.70" y2="389.80" stroke="#000" stroke-width="0.8"/>
<text x="256.70" y="399.00" font-size="6.8" text-anchor="middle" class="t">50</text>
<line x1="268.70" y1="387.70" x2="268.70" y2="389.80" stroke="#000" stroke-width="0.8"/>
<text x="268.70" y="399.00" font-size="6.8" text-anchor="middle" class="t">100</text>
<line x1="280.80" y1="387.70" x2="280.80" y2="389.80" stroke="#000" stroke-width="0.8"/>
<text x="280.80" y="399.00" font-size="6.8" text-anchor="middle" class="t">250</text>
<text x="251.30" y="411.10" font-size="8.8" text-anchor="middle" textLength="63.2" lengthAdjust="spacingAndGlyphs" class="t">nM, ARV-771, 48 hrs</text>
<text x="192.70" y="352.80" font-size="9.6" text-anchor="middle" textLength="55.6" lengthAdjust="spacingAndGlyphs" transform="rotate(-90 192.70 352.80)" class="t">% non-viable cells</text>
<circle cx="220.57" cy="380.07" r="1.25" fill="#8c0612" stroke="#000" stroke-width="0.65"/>
<circle cx="218.49" cy="383.53" r="1.25" fill="#8c0612" stroke="#000" stroke-width="0.65"/>
<circle cx="221.44" cy="382.66" r="1.25" fill="#8c0612" stroke="#000" stroke-width="0.65"/>
<circle cx="222.65" cy="384.74" r="1.25" fill="#8c0612" stroke="#000" stroke-width="0.65"/>
<circle cx="219.71" cy="384.74" r="1.25" fill="#8c0612" stroke="#000" stroke-width="0.65"/>
<circle cx="217.46" cy="384.39" r="1.25" fill="#8c0612" stroke="#000" stroke-width="0.65"/>
<circle cx="221.44" cy="385.78" r="1.25" fill="#8c0612" stroke="#000" stroke-width="0.65"/>
<circle cx="223.17" cy="384.05" r="1.25" fill="#8c0612" stroke="#000" stroke-width="0.65"/>
<circle cx="232.34" cy="370.55" r="1.25" fill="#8c0612" stroke="#000" stroke-width="0.65"/>
<circle cx="232.68" cy="379.20" r="1.25" fill="#8c0612" stroke="#000" stroke-width="0.65"/>
<circle cx="232.34" cy="384.74" r="1.25" fill="#8c0612" stroke="#000" stroke-width="0.65"/>
<circle cx="243.93" cy="361.90" r="1.25" fill="#8c0612" stroke="#000" stroke-width="0.65"/>
<circle cx="245.66" cy="365.71" r="1.25" fill="#8c0612" stroke="#000" stroke-width="0.65"/>
<circle cx="244.45" cy="369.69" r="1.25" fill="#8c0612" stroke="#000" stroke-width="0.65"/>
<circle cx="246.52" cy="371.42" r="1.25" fill="#8c0612" stroke="#000" stroke-width="0.65"/>
<circle cx="242.20" cy="372.63" r="1.25" fill="#8c0612" stroke="#000" stroke-width="0.65"/>
<circle cx="244.79" cy="374.01" r="1.25" fill="#8c0612" stroke="#000" stroke-width="0.65"/>
<circle cx="243.06" cy="375.74" r="1.25" fill="#8c0612" stroke="#000" stroke-width="0.65"/>
<circle cx="246.87" cy="374.36" r="1.25" fill="#8c0612" stroke="#000" stroke-width="0.65"/>
<circle cx="243.93" cy="377.47" r="1.25" fill="#8c0612" stroke="#000" stroke-width="0.65"/>
<circle cx="245.66" cy="380.59" r="1.25" fill="#8c0612" stroke="#000" stroke-width="0.65"/>
<circle cx="242.72" cy="376.61" r="1.25" fill="#8c0612" stroke="#000" stroke-width="0.65"/>
<circle cx="254.65" cy="360.17" r="1.25" fill="#8c0612" stroke="#000" stroke-width="0.65"/>
<circle cx="259.50" cy="361.90" r="1.25" fill="#8c0612" stroke="#000" stroke-width="0.65"/>
<circle cx="256.90" cy="363.29" r="1.25" fill="#8c0612" stroke="#000" stroke-width="0.65"/>
<circle cx="258.29" cy="365.71" r="1.25" fill="#8c0612" stroke="#000" stroke-width="0.65"/>
<circle cx="256.04" cy="368.82" r="1.25" fill="#8c0612" stroke="#000" stroke-width="0.65"/>
<circle cx="255.17" cy="371.94" r="1.25" fill="#8c0612" stroke="#000" stroke-width="0.65"/>
<circle cx="258.63" cy="372.28" r="1.25" fill="#8c0612" stroke="#000" stroke-width="0.65"/>
<circle cx="254.83" cy="376.09" r="1.25" fill="#8c0612" stroke="#000" stroke-width="0.65"/>
<circle cx="257.77" cy="376.61" r="1.25" fill="#8c0612" stroke="#000" stroke-width="0.65"/>
<circle cx="259.50" cy="379.55" r="1.25" fill="#8c0612" stroke="#000" stroke-width="0.65"/>
<circle cx="268.67" cy="348.06" r="1.25" fill="#8c0612" stroke="#000" stroke-width="0.65"/>
<circle cx="268.67" cy="357.06" r="1.25" fill="#8c0612" stroke="#000" stroke-width="0.65"/>
<circle cx="269.01" cy="362.77" r="1.25" fill="#8c0612" stroke="#000" stroke-width="0.65"/>
<circle cx="266.42" cy="365.71" r="1.25" fill="#8c0612" stroke="#000" stroke-width="0.65"/>
<circle cx="271.09" cy="365.02" r="1.25" fill="#8c0612" stroke="#000" stroke-width="0.65"/>
<circle cx="268.67" cy="367.09" r="1.25" fill="#8c0612" stroke="#000" stroke-width="0.65"/>
<circle cx="266.94" cy="368.82" r="1.25" fill="#8c0612" stroke="#000" stroke-width="0.65"/>
<circle cx="269.88" cy="369.69" r="1.25" fill="#8c0612" stroke="#000" stroke-width="0.65"/>
<circle cx="271.61" cy="370.90" r="1.25" fill="#8c0612" stroke="#000" stroke-width="0.65"/>
<circle cx="269.01" cy="380.93" r="1.25" fill="#8c0612" stroke="#000" stroke-width="0.65"/>
<circle cx="280.78" cy="332.49" r="1.25" fill="#8c0612" stroke="#000" stroke-width="0.65"/>
<circle cx="281.12" cy="348.41" r="1.25" fill="#8c0612" stroke="#000" stroke-width="0.65"/>
<circle cx="280.26" cy="358.79" r="1.25" fill="#8c0612" stroke="#000" stroke-width="0.65"/>
<circle cx="282.51" cy="358.79" r="1.25" fill="#8c0612" stroke="#000" stroke-width="0.65"/>
<circle cx="279.39" cy="361.04" r="1.25" fill="#8c0612" stroke="#000" stroke-width="0.65"/>
<circle cx="283.72" cy="360.52" r="1.25" fill="#8c0612" stroke="#000" stroke-width="0.65"/>
<circle cx="278.53" cy="362.77" r="1.25" fill="#8c0612" stroke="#000" stroke-width="0.65"/>
<circle cx="281.99" cy="363.98" r="1.25" fill="#8c0612" stroke="#000" stroke-width="0.65"/>
<circle cx="281.12" cy="369.69" r="1.25" fill="#8c0612" stroke="#000" stroke-width="0.65"/>
<circle cx="279.74" cy="374.01" r="1.25" fill="#8c0612" stroke="#000" stroke-width="0.65"/>
<circle cx="282.51" cy="376.61" r="1.25" fill="#8c0612" stroke="#000" stroke-width="0.65"/>
<line x1="216.76" y1="384.39" x2="224.38" y2="384.39" stroke="#000" stroke-width="1.1"/>
<line x1="228.88" y1="377.99" x2="237.01" y2="377.99" stroke="#000" stroke-width="1.1"/>
<line x1="240.47" y1="372.28" x2="248.25" y2="372.28" stroke="#000" stroke-width="1.1"/>
<line x1="252.58" y1="369.34" x2="260.71" y2="369.34" stroke="#000" stroke-width="1.1"/>
<line x1="264.69" y1="365.71" x2="272.82" y2="365.71" stroke="#000" stroke-width="1.1"/>
<line x1="277.32" y1="361.04" x2="284.93" y2="361.04" stroke="#000" stroke-width="1.1"/>
<text x="333.80" y="291.60" font-size="11.6" font-weight="bold" fill="#000" stroke="#000" stroke-width="0.45">F</text>
<text x="404.20" y="301.80" font-size="9.2" text-anchor="middle" textLength="78.7" lengthAdjust="spacingAndGlyphs" class="t">CD34+ sAML blasts</text>
<text x="404.40" y="312.20" font-size="9.2" text-anchor="middle" textLength="84.7" lengthAdjust="spacingAndGlyphs" class="t">resistant (to OTX015)</text>
<text x="382.40" y="327.00" font-size="6.6" textLength="20.9" lengthAdjust="spacingAndGlyphs" class="t">N = 15</text>
<line x1="367.20" y1="318.50" x2="367.20" y2="388.00" stroke="#000" stroke-width="1.0"/>
<line x1="364.20" y1="321.10" x2="367.20" y2="321.10" stroke="#000" stroke-width="0.8"/>
<text x="361.90" y="323.55" font-size="7.0" text-anchor="end" class="t">100</text>
<line x1="364.20" y1="334.50" x2="367.20" y2="334.50" stroke="#000" stroke-width="0.8"/>
<text x="361.90" y="336.95" font-size="7.0" text-anchor="end" class="t">80</text>
<line x1="364.20" y1="347.60" x2="367.20" y2="347.60" stroke="#000" stroke-width="0.8"/>
<text x="361.90" y="350.05" font-size="7.0" text-anchor="end" class="t">60</text>
<line x1="364.20" y1="361.00" x2="367.20" y2="361.00" stroke="#000" stroke-width="0.8"/>
<text x="361.90" y="363.45" font-size="7.0" text-anchor="end" class="t">40</text>
<line x1="364.20" y1="374.20" x2="367.20" y2="374.20" stroke="#000" stroke-width="0.8"/>
<text x="361.90" y="376.65" font-size="7.0" text-anchor="end" class="t">20</text>
<line x1="364.20" y1="387.30" x2="367.20" y2="387.30" stroke="#000" stroke-width="0.8"/>
<text x="361.90" y="389.75" font-size="7.0" text-anchor="end" class="t">0</text>
<line x1="366.70" y1="387.60" x2="440.60" y2="387.60" stroke="#000" stroke-width="1.0"/>
<line x1="374.60" y1="387.60" x2="374.60" y2="389.70" stroke="#000" stroke-width="0.8"/>
<text x="374.60" y="399.60" font-size="6.8" text-anchor="middle" class="t">0</text>
<line x1="389.20" y1="387.60" x2="389.20" y2="389.70" stroke="#000" stroke-width="0.8"/>
<text x="389.20" y="399.60" font-size="6.8" text-anchor="middle" class="t">10</text>
<line x1="403.60" y1="387.60" x2="403.60" y2="389.70" stroke="#000" stroke-width="0.8"/>
<text x="403.60" y="399.60" font-size="6.8" text-anchor="middle" class="t">20</text>
<line x1="418.10" y1="387.60" x2="418.10" y2="389.70" stroke="#000" stroke-width="0.8"/>
<text x="418.10" y="399.60" font-size="6.8" text-anchor="middle" class="t">50</text>
<line x1="432.90" y1="387.60" x2="432.90" y2="389.70" stroke="#000" stroke-width="0.8"/>
<text x="432.90" y="399.60" font-size="6.8" text-anchor="middle" class="t">100</text>
<text x="404.00" y="412.50" font-size="8.8" text-anchor="middle" textLength="61.7" lengthAdjust="spacingAndGlyphs" class="t">nM, BC2059, 48 hrs</text>
<text x="345.70" y="352.80" font-size="9.6" text-anchor="middle" textLength="55.6" lengthAdjust="spacingAndGlyphs" transform="rotate(-90 345.70 352.80)" class="t">% non-viable cells</text>
<circle cx="371.44" cy="383.88" r="1.25" fill="#8c0612" stroke="#000" stroke-width="0.65"/>
<circle cx="373.40" cy="382.74" r="1.25" fill="#8c0612" stroke="#000" stroke-width="0.65"/>
<circle cx="375.53" cy="381.92" r="1.25" fill="#8c0612" stroke="#000" stroke-width="0.65"/>
<circle cx="376.67" cy="383.55" r="1.25" fill="#8c0612" stroke="#000" stroke-width="0.65"/>
<circle cx="374.38" cy="384.86" r="1.25" fill="#8c0612" stroke="#000" stroke-width="0.65"/>
<circle cx="377.65" cy="385.51" r="1.25" fill="#8c0612" stroke="#000" stroke-width="0.65"/>
<circle cx="372.26" cy="384.86" r="1.25" fill="#8c0612" stroke="#000" stroke-width="0.65"/>
<circle cx="375.53" cy="384.37" r="1.25" fill="#8c0612" stroke="#000" stroke-width="0.65"/>
<circle cx="389.09" cy="372.93" r="1.25" fill="#8c0612" stroke="#000" stroke-width="0.65"/>
<circle cx="385.83" cy="377.83" r="1.25" fill="#8c0612" stroke="#000" stroke-width="0.65"/>
<circle cx="388.60" cy="378.65" r="1.25" fill="#8c0612" stroke="#000" stroke-width="0.65"/>
<circle cx="392.69" cy="377.83" r="1.25" fill="#8c0612" stroke="#000" stroke-width="0.65"/>
<circle cx="386.97" cy="379.47" r="1.25" fill="#8c0612" stroke="#000" stroke-width="0.65"/>
<circle cx="390.24" cy="380.28" r="1.25" fill="#8c0612" stroke="#000" stroke-width="0.65"/>
<circle cx="389.09" cy="382.74" r="1.25" fill="#8c0612" stroke="#000" stroke-width="0.65"/>
<circle cx="392.36" cy="383.88" r="1.25" fill="#8c0612" stroke="#000" stroke-width="0.65"/>
<circle cx="403.31" cy="363.61" r="1.25" fill="#8c0612" stroke="#000" stroke-width="0.65"/>
<circle cx="401.68" cy="367.21" r="1.25" fill="#8c0612" stroke="#000" stroke-width="0.65"/>
<circle cx="404.95" cy="368.03" r="1.25" fill="#8c0612" stroke="#000" stroke-width="0.65"/>
<circle cx="403.81" cy="370.48" r="1.25" fill="#8c0612" stroke="#000" stroke-width="0.65"/>
<circle cx="402.82" cy="372.93" r="1.25" fill="#8c0612" stroke="#000" stroke-width="0.65"/>
<circle cx="405.77" cy="374.07" r="1.25" fill="#8c0612" stroke="#000" stroke-width="0.65"/>
<circle cx="400.86" cy="375.38" r="1.25" fill="#8c0612" stroke="#000" stroke-width="0.65"/>
<circle cx="404.13" cy="376.69" r="1.25" fill="#8c0612" stroke="#000" stroke-width="0.65"/>
<circle cx="402.17" cy="378.65" r="1.25" fill="#8c0612" stroke="#000" stroke-width="0.65"/>
<circle cx="406.58" cy="378.32" r="1.25" fill="#8c0612" stroke="#000" stroke-width="0.65"/>
<circle cx="400.54" cy="380.28" r="1.25" fill="#8c0612" stroke="#000" stroke-width="0.65"/>
<circle cx="403.31" cy="381.59" r="1.25" fill="#8c0612" stroke="#000" stroke-width="0.65"/>
<circle cx="404.95" cy="383.23" r="1.25" fill="#8c0612" stroke="#000" stroke-width="0.65"/>
<circle cx="407.07" cy="383.88" r="1.25" fill="#8c0612" stroke="#000" stroke-width="0.65"/>
<circle cx="418.03" cy="347.27" r="1.25" fill="#8c0612" stroke="#000" stroke-width="0.65"/>
<circle cx="418.35" cy="354.46" r="1.25" fill="#8c0612" stroke="#000" stroke-width="0.65"/>
<circle cx="418.03" cy="362.63" r="1.25" fill="#8c0612" stroke="#000" stroke-width="0.65"/>
<circle cx="416.39" cy="365.57" r="1.25" fill="#8c0612" stroke="#000" stroke-width="0.65"/>
<circle cx="419.66" cy="367.21" r="1.25" fill="#8c0612" stroke="#000" stroke-width="0.65"/>
<circle cx="415.57" cy="369.66" r="1.25" fill="#8c0612" stroke="#000" stroke-width="0.65"/>
<circle cx="418.52" cy="371.78" r="1.25" fill="#8c0612" stroke="#000" stroke-width="0.65"/>
<circle cx="417.21" cy="373.75" r="1.25" fill="#8c0612" stroke="#000" stroke-width="0.65"/>
<circle cx="420.80" cy="374.07" r="1.25" fill="#8c0612" stroke="#000" stroke-width="0.65"/>
<circle cx="414.76" cy="376.20" r="1.25" fill="#8c0612" stroke="#000" stroke-width="0.65"/>
<circle cx="419.17" cy="377.34" r="1.25" fill="#8c0612" stroke="#000" stroke-width="0.65"/>
<circle cx="415.90" cy="379.47" r="1.25" fill="#8c0612" stroke="#000" stroke-width="0.65"/>
<circle cx="418.03" cy="380.61" r="1.25" fill="#8c0612" stroke="#000" stroke-width="0.65"/>
<circle cx="421.29" cy="382.41" r="1.25" fill="#8c0612" stroke="#000" stroke-width="0.65"/>
<circle cx="432.74" cy="331.74" r="1.25" fill="#8c0612" stroke="#000" stroke-width="0.65"/>
<circle cx="432.74" cy="339.91" r="1.25" fill="#8c0612" stroke="#000" stroke-width="0.65"/>
<circle cx="432.25" cy="350.05" r="1.25" fill="#8c0612" stroke="#000" stroke-width="0.65"/>
<circle cx="429.96" cy="356.09" r="1.25" fill="#8c0612" stroke="#000" stroke-width="0.65"/>
<circle cx="432.74" cy="357.40" r="1.25" fill="#8c0612" stroke="#000" stroke-width="0.65"/>
<circle cx="435.51" cy="358.71" r="1.25" fill="#8c0612" stroke="#000" stroke-width="0.65"/>
<circle cx="431.92" cy="360.67" r="1.25" fill="#8c0612" stroke="#000" stroke-width="0.65"/>
<circle cx="434.86" cy="363.12" r="1.25" fill="#8c0612" stroke="#000" stroke-width="0.65"/>
<circle cx="430.28" cy="366.39" r="1.25" fill="#8c0612" stroke="#000" stroke-width="0.65"/>
<circle cx="434.37" cy="370.48" r="1.25" fill="#8c0612" stroke="#000" stroke-width="0.65"/>
<circle cx="430.61" cy="371.29" r="1.25" fill="#8c0612" stroke="#000" stroke-width="0.65"/>
<circle cx="431.10" cy="372.93" r="1.25" fill="#8c0612" stroke="#000" stroke-width="0.65"/>
<circle cx="434.37" cy="375.71" r="1.25" fill="#8c0612" stroke="#000" stroke-width="0.65"/>
<line x1="369.81" y1="383.88" x2="378.80" y2="383.88" stroke="#000" stroke-width="1.1"/>
<line x1="384.52" y1="378.65" x2="393.51" y2="378.65" stroke="#000" stroke-width="1.1"/>
<line x1="398.41" y1="375.38" x2="408.71" y2="375.38" stroke="#000" stroke-width="1.1"/>
<line x1="413.12" y1="370.48" x2="422.93" y2="370.48" stroke="#000" stroke-width="1.1"/>
<line x1="428.32" y1="359.04" x2="436.82" y2="359.04" stroke="#000" stroke-width="1.1"/>
<text x="10.40" y="458.50" font-size="11.6" font-weight="bold" fill="#000" stroke="#000" stroke-width="0.45">G</text>
<text x="93.40" y="469.60" font-size="9.2" text-anchor="middle" textLength="84.1" lengthAdjust="spacingAndGlyphs" class="t">ARV-771 and BC2059</text>
<text x="93.60" y="479.30" font-size="9.2" text-anchor="middle" textLength="83.7" lengthAdjust="spacingAndGlyphs" class="t">resistant (to OTX015)</text>
<line x1="48.70" y1="485.30" x2="48.70" y2="619.60" stroke="#000" stroke-width="1.0"/>
<line x1="48.20" y1="619.20" x2="136.30" y2="619.20" stroke="#000" stroke-width="1.0"/>
<line x1="48.70" y1="619.20" x2="48.70" y2="621.40" stroke="#000" stroke-width="0.8"/>
<text x="48.70" y="630.00" font-size="6.8" text-anchor="middle" class="t">0.0</text>
<line x1="66.12" y1="619.20" x2="66.12" y2="621.40" stroke="#000" stroke-width="0.8"/>
<text x="66.12" y="630.00" font-size="6.8" text-anchor="middle" class="t">0.2</text>
<line x1="83.54" y1="619.20" x2="83.54" y2="621.40" stroke="#000" stroke-width="0.8"/>
<text x="83.54" y="630.00" font-size="6.8" text-anchor="middle" class="t">0.4</text>
<line x1="100.96" y1="619.20" x2="100.96" y2="621.40" stroke="#000" stroke-width="0.8"/>
<text x="100.96" y="630.00" font-size="6.8" text-anchor="middle" class="t">0.6</text>
<line x1="118.38" y1="619.20" x2="118.38" y2="621.40" stroke="#000" stroke-width="0.8"/>
<text x="118.38" y="630.00" font-size="6.8" text-anchor="middle" class="t">0.8</text>
<line x1="135.80" y1="619.20" x2="135.80" y2="621.40" stroke="#000" stroke-width="0.8"/>
<text x="135.80" y="630.00" font-size="6.8" text-anchor="middle" class="t">1.0</text>
<text x="93.60" y="643.50" font-size="9.4" text-anchor="middle" textLength="80.5" lengthAdjust="spacingAndGlyphs" class="t">Combination index values</text>
<line x1="45.90" y1="492.50" x2="48.70" y2="492.50" stroke="#000" stroke-width="0.8"/>
<text x="42.20" y="494.80" font-size="6.6" text-anchor="end" textLength="26.2" lengthAdjust="spacingAndGlyphs" class="t">R-sAML1</text>
<line x1="45.90" y1="502.50" x2="48.70" y2="502.50" stroke="#000" stroke-width="0.8"/>
<text x="42.20" y="504.80" font-size="6.6" text-anchor="end" textLength="26.2" lengthAdjust="spacingAndGlyphs" class="t">R-sAML2</text>
<line x1="45.90" y1="512.50" x2="48.70" y2="512.50" stroke="#000" stroke-width="0.8"/>
<text x="42.20" y="514.80" font-size="6.6" text-anchor="end" textLength="26.2" lengthAdjust="spacingAndGlyphs" class="t">R-sAML3</text>
<line x1="45.90" y1="522.40" x2="48.70" y2="522.40" stroke="#000" stroke-width="0.8"/>
<text x="42.20" y="524.70" font-size="6.6" text-anchor="end" textLength="26.2" lengthAdjust="spacingAndGlyphs" class="t">R-sAML4</text>
<line x1="45.90" y1="532.30" x2="48.70" y2="532.30" stroke="#000" stroke-width="0.8"/>
<text x="42.20" y="534.60" font-size="6.6" text-anchor="end" textLength="26.2" lengthAdjust="spacingAndGlyphs" class="t">R-sAML5</text>
<line x1="45.90" y1="542.30" x2="48.70" y2="542.30" stroke="#000" stroke-width="0.8"/>
<text x="42.20" y="544.60" font-size="6.6" text-anchor="end" textLength="26.2" lengthAdjust="spacingAndGlyphs" class="t">R-sAML6</text>
<line x1="45.90" y1="552.30" x2="48.70" y2="552.30" stroke="#000" stroke-width="0.8"/>
<text x="42.20" y="554.60" font-size="6.6" text-anchor="end" textLength="26.2" lengthAdjust="spacingAndGlyphs" class="t">R-sAML7</text>
<line x1="45.90" y1="562.30" x2="48.70" y2="562.30" stroke="#000" stroke-width="0.8"/>
<text x="42.20" y="564.60" font-size="6.6" text-anchor="end" textLength="26.2" lengthAdjust="spacingAndGlyphs" class="t">R-sAML8</text>
<line x1="45.90" y1="572.30" x2="48.70" y2="572.30" stroke="#000" stroke-width="0.8"/>
<text x="42.20" y="574.60" font-size="6.6" text-anchor="end" textLength="26.2" lengthAdjust="spacingAndGlyphs" class="t">R-sAML9</text>
<line x1="45.90" y1="582.30" x2="48.70" y2="582.30" stroke="#000" stroke-width="0.8"/>
<text x="42.20" y="584.60" font-size="6.6" text-anchor="end" textLength="30.0" lengthAdjust="spacingAndGlyphs" class="t">R-sAML10</text>
<line x1="45.90" y1="592.30" x2="48.70" y2="592.30" stroke="#000" stroke-width="0.8"/>
<text x="42.20" y="594.60" font-size="6.6" text-anchor="end" textLength="30.0" lengthAdjust="spacingAndGlyphs" class="t">R-sAML11</text>
<line x1="45.90" y1="602.20" x2="48.70" y2="602.20" stroke="#000" stroke-width="0.8"/>
<text x="42.20" y="604.50" font-size="6.6" text-anchor="end" textLength="30.0" lengthAdjust="spacingAndGlyphs" class="t">R-sAML12</text>
<line x1="45.90" y1="612.30" x2="48.70" y2="612.30" stroke="#000" stroke-width="0.8"/>
<text x="42.20" y="614.60" font-size="6.6" text-anchor="end" textLength="30.0" lengthAdjust="spacingAndGlyphs" class="t">R-sAML13</text>
<rect x="64.60" y="490.10" width="6.00" height="4.80" fill="#b8d88c"/>
<line x1="66.10" y1="490.10" x2="66.10" y2="494.90" stroke="#000" stroke-width="1.0"/>
<rect x="73.50" y="500.10" width="14.40" height="4.80" fill="#f0c020"/>
<line x1="80.50" y1="500.10" x2="80.50" y2="504.90" stroke="#000" stroke-width="1.0"/>
<rect x="49.30" y="510.10" width="6.40" height="4.80" fill="#2f6b4c"/>
<line x1="49.90" y1="510.10" x2="49.90" y2="514.90" stroke="#000" stroke-width="1.0"/>
<rect x="55.70" y="520.00" width="13.20" height="4.80" fill="#c4122e"/>
<line x1="57.50" y1="520.00" x2="57.50" y2="524.80" stroke="#000" stroke-width="1.0"/>
<rect x="93.10" y="529.90" width="30.80" height="4.80" fill="#5a1a68"/>
<line x1="107.30" y1="529.90" x2="107.30" y2="534.70" stroke="#000" stroke-width="1.0"/>
<rect x="55.70" y="539.90" width="13.20" height="4.80" fill="#2c5496"/>
<line x1="57.50" y1="539.90" x2="57.50" y2="544.70" stroke="#000" stroke-width="1.0"/>
<rect x="61.80" y="549.90" width="6.00" height="4.80" fill="#b86a20"/>
<rect x="59.20" y="559.90" width="22.70" height="4.80" fill="#4e586e"/>
<line x1="71.30" y1="559.90" x2="71.30" y2="564.70" stroke="#000" stroke-width="1.0"/>
<rect x="58.80" y="569.90" width="33.80" height="4.80" fill="#e39420"/>
<line x1="68.00" y1="569.90" x2="68.00" y2="574.70" stroke="#000" stroke-width="1.0"/>
<rect x="58.00" y="579.90" width="10.40" height="4.80" fill="#cc1a88"/>
<line x1="58.50" y1="579.90" x2="58.50" y2="584.70" stroke="#000" stroke-width="1.0"/>
<rect x="58.00" y="589.90" width="10.40" height="4.80" fill="#60b244"/>
<line x1="58.50" y1="589.90" x2="58.50" y2="594.70" stroke="#000" stroke-width="1.0"/>
<rect x="63.70" y="599.80" width="17.30" height="4.80" fill="#5c3a18"/>
<line x1="74.40" y1="599.80" x2="74.40" y2="604.60" stroke="#000" stroke-width="1.0"/>
<line x1="51.60" y1="609.60" x2="51.60" y2="615.00" stroke="#999" stroke-width="0.4"/>
<text x="165.80" y="426.80" font-size="11.6" font-weight="bold" fill="#000" stroke="#000" stroke-width="0.45">H</text>
<text x="209.30" y="435.80" font-size="7.0" text-anchor="middle" class="t">Control</text>
<text x="209.30" y="443.00" font-size="7.0" text-anchor="middle" class="t">sgRNA</text>
<text x="252.80" y="435.80" font-size="7.0" text-anchor="middle" class="t">TCF7L2</text>
<text x="252.80" y="443.00" font-size="7.0" text-anchor="middle" class="t">Ex3 sgRNA</text>
<text x="296.00" y="435.80" font-size="7.0" text-anchor="middle" class="t">JMJD6</text>
<text x="296.00" y="443.00" font-size="7.0" text-anchor="middle" class="t">sgRNA</text>
<text x="185.20" y="467.00" font-size="7.3" text-anchor="middle" textLength="22.4" lengthAdjust="spacingAndGlyphs" transform="rotate(-90 185.20 467.00)" class="t">TCF7L2</text>
<text x="185.20" y="508.60" font-size="7.3" text-anchor="middle" textLength="15.8" lengthAdjust="spacingAndGlyphs" transform="rotate(-90 185.20 508.60)" class="t">DAPI</text>
<text x="185.20" y="550.60" font-size="7.3" text-anchor="middle" textLength="21.1" lengthAdjust="spacingAndGlyphs" transform="rotate(-90 185.20 550.60)" class="t">JMJD6</text>
<text x="185.20" y="592.80" font-size="7.3" text-anchor="middle" textLength="15.6" lengthAdjust="spacingAndGlyphs" transform="rotate(-90 185.20 592.80)" class="t">DAPI</text>
<text x="185.20" y="634.70" font-size="7.3" text-anchor="middle" textLength="17.9" lengthAdjust="spacingAndGlyphs" transform="rotate(-90 185.20 634.70)" class="t">c-Myc</text>
<text x="185.20" y="677.50" font-size="7.3" text-anchor="middle" textLength="15.2" lengthAdjust="spacingAndGlyphs" transform="rotate(-90 185.20 677.50)" class="t">DAPI</text>
<text x="335.60" y="426.80" font-size="11.6" font-weight="bold" fill="#000" stroke="#000" stroke-width="0.45">I</text>
<text x="429.00" y="437.60" font-size="9.0" text-anchor="middle" textLength="48.2" lengthAdjust="spacingAndGlyphs" class="t">sAML blasts</text>
<line x1="367.60" y1="443.50" x2="367.60" y2="515.80" stroke="#000" stroke-width="1.0"/>
<line x1="364.60" y1="446.00" x2="367.60" y2="446.00" stroke="#000" stroke-width="0.8"/>
<text x="361.90" y="448.45" font-size="7.0" text-anchor="end" class="t">100</text>
<line x1="364.60" y1="463.30" x2="367.60" y2="463.30" stroke="#000" stroke-width="0.8"/>
<text x="361.90" y="465.75" font-size="7.0" text-anchor="end" class="t">75</text>
<line x1="364.60" y1="480.60" x2="367.60" y2="480.60" stroke="#000" stroke-width="0.8"/>
<text x="361.90" y="483.05" font-size="7.0" text-anchor="end" class="t">50</text>
<line x1="364.60" y1="497.90" x2="367.60" y2="497.90" stroke="#000" stroke-width="0.8"/>
<text x="361.90" y="500.35" font-size="7.0" text-anchor="end" class="t">25</text>
<line x1="364.60" y1="515.20" x2="367.60" y2="515.20" stroke="#000" stroke-width="0.8"/>
<text x="361.90" y="517.65" font-size="7.0" text-anchor="end" class="t">0</text>
<line x1="367.10" y1="515.40" x2="490.80" y2="515.40" stroke="#000" stroke-width="1.0"/>
<line x1="367.60" y1="515.40" x2="367.60" y2="518.20" stroke="#000" stroke-width="0.8"/>
<text x="367.60" y="527.50" font-size="6.8" text-anchor="middle" class="t">0</text>
<line x1="397.60" y1="515.40" x2="397.60" y2="518.20" stroke="#000" stroke-width="0.8"/>
<text x="397.60" y="527.50" font-size="6.8" text-anchor="middle" class="t">2</text>
<line x1="427.60" y1="515.40" x2="427.60" y2="518.20" stroke="#000" stroke-width="0.8"/>
<text x="427.60" y="527.50" font-size="6.8" text-anchor="middle" class="t">4</text>
<line x1="457.60" y1="515.40" x2="457.60" y2="518.20" stroke="#000" stroke-width="0.8"/>
<text x="457.60" y="527.50" font-size="6.8" text-anchor="middle" class="t">6</text>
<line x1="487.60" y1="515.40" x2="487.60" y2="518.20" stroke="#000" stroke-width="0.8"/>
<text x="487.60" y="527.50" font-size="6.8" text-anchor="middle" class="t">8</text>
<text x="429.20" y="539.90" font-size="8.8" text-anchor="middle" textLength="35.7" lengthAdjust="spacingAndGlyphs" class="t">Time (days)</text>
<text x="346.30" y="478.80" font-size="9.6" text-anchor="middle" textLength="43.9" lengthAdjust="spacingAndGlyphs" transform="rotate(-90 346.30 478.80)" class="t">% cell viability</text>
<path d="M382.60 448.42 L397.60 451.19 L427.60 456.24 L457.60 465.86 L472.60 468.07" fill="none" stroke="#52ac34" stroke-width="0.9"/>
<circle cx="382.60" cy="448.42" r="1.7" fill="#52ac34" stroke="#52ac34" stroke-width="0.3"/>
<circle cx="397.60" cy="451.19" r="1.7" fill="#52ac34" stroke="#52ac34" stroke-width="0.3"/>
<circle cx="427.60" cy="456.24" r="1.7" fill="#52ac34" stroke="#52ac34" stroke-width="0.3"/>
<circle cx="457.60" cy="465.86" r="1.7" fill="#52ac34" stroke="#52ac34" stroke-width="0.3"/>
<circle cx="472.60" cy="468.07" r="1.7" fill="#52ac34" stroke="#52ac34" stroke-width="0.3"/>
<path d="M382.60 448.08 L397.60 450.84 L427.60 459.15 L457.60 470.50 L472.60 473.20" fill="none" stroke="#1c3a88" stroke-width="0.9"/>
<circle cx="382.60" cy="448.08" r="1.7" fill="#1c3a88" stroke="#1c3a88" stroke-width="0.3"/>
<circle cx="397.60" cy="450.84" r="1.7" fill="#1c3a88" stroke="#1c3a88" stroke-width="0.3"/>
<circle cx="427.60" cy="459.15" r="1.7" fill="#1c3a88" stroke="#1c3a88" stroke-width="0.3"/>
<circle cx="457.60" cy="470.50" r="1.7" fill="#1c3a88" stroke="#1c3a88" stroke-width="0.3"/>
<circle cx="472.60" cy="473.20" r="1.7" fill="#1c3a88" stroke="#1c3a88" stroke-width="0.3"/>
<path d="M382.60 447.66 L397.60 451.12 L427.60 452.71 L457.60 452.30 L472.60 453.54" fill="none" stroke="#b80630" stroke-width="0.9"/>
<circle cx="382.60" cy="447.66" r="1.7" fill="#b80630" stroke="#b80630" stroke-width="0.3"/>
<circle cx="397.60" cy="451.12" r="1.7" fill="#b80630" stroke="#b80630" stroke-width="0.3"/>
<circle cx="427.60" cy="452.71" r="1.7" fill="#b80630" stroke="#b80630" stroke-width="0.3"/>
<circle cx="457.60" cy="452.30" r="1.7" fill="#b80630" stroke="#b80630" stroke-width="0.3"/>
<circle cx="472.60" cy="453.54" r="1.7" fill="#b80630" stroke="#b80630" stroke-width="0.3"/>
<text x="477.80" y="471.60" font-size="6.4" class="t">**</text>
<text x="477.80" y="476.60" font-size="6.4" class="t">**</text>
<line x1="373.70" y1="487.80" x2="382.10" y2="487.80" stroke="#b80630" stroke-width="0.9"/>
<circle cx="378.10" cy="487.80" r="1.4" fill="#b80630" stroke="#b80630" stroke-width="0.3"/>
<text x="385.90" y="490.00" font-size="6.6" textLength="36.2" lengthAdjust="spacingAndGlyphs" class="t">control sgRNA</text>
<line x1="373.70" y1="496.80" x2="382.10" y2="496.80" stroke="#1c3a88" stroke-width="0.9"/>
<circle cx="378.10" cy="496.80" r="1.4" fill="#1c3a88" stroke="#1c3a88" stroke-width="0.3"/>
<text x="385.90" y="499.00" font-size="6.6" textLength="33.5" lengthAdjust="spacingAndGlyphs" class="t">sgTCF7L2 ex 3</text>
<line x1="373.70" y1="505.80" x2="382.10" y2="505.80" stroke="#52ac34" stroke-width="0.9"/>
<circle cx="378.10" cy="505.80" r="1.4" fill="#52ac34" stroke="#52ac34" stroke-width="0.3"/>
<text x="385.90" y="508.00" font-size="6.6" textLength="32.0" lengthAdjust="spacingAndGlyphs" class="t">JMJD6 sgRNA</text>
<text x="333.80" y="567.40" font-size="11.6" font-weight="bold" fill="#000" stroke="#000" stroke-width="0.45">J</text>
<text x="429.20" y="578.20" font-size="9.0" text-anchor="middle" textLength="48.5" lengthAdjust="spacingAndGlyphs" class="t">sAML blasts</text>
<line x1="367.60" y1="583.50" x2="367.60" y2="666.80" stroke="#000" stroke-width="1.0"/>
<line x1="364.60" y1="586.70" x2="367.60" y2="586.70" stroke="#000" stroke-width="0.8"/>
<text x="361.90" y="589.15" font-size="7.0" text-anchor="end" class="t">100</text>
<line x1="364.60" y1="602.70" x2="367.60" y2="602.70" stroke="#000" stroke-width="0.8"/>
<text x="361.90" y="605.15" font-size="7.0" text-anchor="end" class="t">80</text>
<line x1="364.60" y1="618.50" x2="367.60" y2="618.50" stroke="#000" stroke-width="0.8"/>
<text x="361.90" y="620.95" font-size="7.0" text-anchor="end" class="t">60</text>
<line x1="364.60" y1="634.40" x2="367.60" y2="634.40" stroke="#000" stroke-width="0.8"/>
<text x="361.90" y="636.85" font-size="7.0" text-anchor="end" class="t">40</text>
<line x1="364.60" y1="650.40" x2="367.60" y2="650.40" stroke="#000" stroke-width="0.8"/>
<text x="361.90" y="652.85" font-size="7.0" text-anchor="end" class="t">20</text>
<line x1="364.60" y1="666.30" x2="367.60" y2="666.30" stroke="#000" stroke-width="0.8"/>
<text x="361.90" y="668.75" font-size="7.0" text-anchor="end" class="t">0</text>
<line x1="367.10" y1="666.50" x2="379.60" y2="666.50" stroke="#000" stroke-width="1.0"/>
<line x1="379.60" y1="662.50" x2="379.60" y2="668.50" stroke="#000" stroke-width="0.8"/>
<line x1="385.80" y1="662.50" x2="385.80" y2="668.50" stroke="#000" stroke-width="0.8"/>
<line x1="385.80" y1="666.50" x2="490.80" y2="666.50" stroke="#000" stroke-width="1.0"/>
<line x1="385.06" y1="664.90" x2="385.06" y2="666.50" stroke="#000" stroke-width="0.5"/>
<line x1="390.18" y1="664.90" x2="390.18" y2="666.50" stroke="#000" stroke-width="0.5"/>
<line x1="394.16" y1="664.90" x2="394.16" y2="666.50" stroke="#000" stroke-width="0.5"/>
<line x1="397.40" y1="664.90" x2="397.40" y2="666.50" stroke="#000" stroke-width="0.5"/>
<line x1="400.15" y1="664.90" x2="400.15" y2="666.50" stroke="#000" stroke-width="0.5"/>
<line x1="402.53" y1="664.90" x2="402.53" y2="666.50" stroke="#000" stroke-width="0.5"/>
<line x1="404.62" y1="664.90" x2="404.62" y2="666.50" stroke="#000" stroke-width="0.5"/>
<line x1="418.84" y1="664.90" x2="418.84" y2="666.50" stroke="#000" stroke-width="0.5"/>
<line x1="426.06" y1="664.90" x2="426.06" y2="666.50" stroke="#000" stroke-width="0.5"/>
<line x1="431.18" y1="664.90" x2="431.18" y2="666.50" stroke="#000" stroke-width="0.5"/>
<line x1="435.16" y1="664.90" x2="435.16" y2="666.50" stroke="#000" stroke-width="0.5"/>
<line x1="438.40" y1="664.90" x2="438.40" y2="666.50" stroke="#000" stroke-width="0.5"/>
<line x1="441.15" y1="664.90" x2="441.15" y2="666.50" stroke="#000" stroke-width="0.5"/>
<line x1="443.53" y1="664.90" x2="443.53" y2="666.50" stroke="#000" stroke-width="0.5"/>
<line x1="445.62" y1="664.90" x2="445.62" y2="666.50" stroke="#000" stroke-width="0.5"/>
<line x1="459.84" y1="664.90" x2="459.84" y2="666.50" stroke="#000" stroke-width="0.5"/>
<line x1="467.06" y1="664.90" x2="467.06" y2="666.50" stroke="#000" stroke-width="0.5"/>
<line x1="472.18" y1="664.90" x2="472.18" y2="666.50" stroke="#000" stroke-width="0.5"/>
<line x1="476.16" y1="664.90" x2="476.16" y2="666.50" stroke="#000" stroke-width="0.5"/>
<line x1="479.40" y1="664.90" x2="479.40" y2="666.50" stroke="#000" stroke-width="0.5"/>
<line x1="482.15" y1="664.90" x2="482.15" y2="666.50" stroke="#000" stroke-width="0.5"/>
<line x1="484.53" y1="664.90" x2="484.53" y2="666.50" stroke="#000" stroke-width="0.5"/>
<line x1="486.62" y1="664.90" x2="486.62" y2="666.50" stroke="#000" stroke-width="0.5"/>
<line x1="406.50" y1="663.60" x2="406.50" y2="668.60" stroke="#000" stroke-width="0.8"/>
<line x1="447.50" y1="663.60" x2="447.50" y2="668.60" stroke="#000" stroke-width="0.8"/>
<line x1="488.50" y1="663.60" x2="488.50" y2="668.60" stroke="#000" stroke-width="0.8"/>
<line x1="367.60" y1="666.50" x2="367.60" y2="668.60" stroke="#000" stroke-width="0.8"/>
<text x="367.60" y="678.00" font-size="6.8" text-anchor="middle" class="t">0</text>
<text x="385.06" y="678.00" font-size="6.8" text-anchor="middle" class="t">30</text>
<text x="406.50" y="678.00" font-size="6.8" text-anchor="middle" class="t">100</text>
<text x="426.06" y="678.00" font-size="6.8" text-anchor="middle" class="t">300</text>
<text x="447.50" y="678.00" font-size="6.8" text-anchor="middle" class="t">1000</text>
<text x="467.06" y="678.00" font-size="6.8" text-anchor="middle" class="t">3000</text>
<text x="488.50" y="678.00" font-size="6.8" text-anchor="middle" class="t">10000</text>
<text x="429.30" y="689.90" font-size="8.8" text-anchor="middle" textLength="61.1" lengthAdjust="spacingAndGlyphs" class="t">nM, OTX015, 48 hrs</text>
<text x="429.40" y="700.80" font-size="8.8" text-anchor="middle" textLength="94.1" lengthAdjust="spacingAndGlyphs" class="t">Post 5 days of Cas9 and sgRNA</text>
<text x="345.50" y="624.20" font-size="9.6" text-anchor="middle" textLength="53.0" lengthAdjust="spacingAndGlyphs" transform="rotate(-90 345.50 624.20)" class="t">% non-viable cells</text>
<path d="M367.60 649.58 L379.00 649.58" fill="none" stroke="#52ac34" stroke-width="0.9"/>
<path d="M386.50 648.66 L385.06 648.66 L386.43 648.56 L387.80 648.46 L389.17 648.35 L390.54 648.23 L391.91 648.10 L393.28 647.95 L394.65 647.80 L396.02 647.62 L397.40 647.43 L398.77 647.23 L400.14 647.00 L401.51 646.76 L402.88 646.49 L404.25 646.20 L405.62 645.88 L406.99 645.54 L408.36 645.17 L409.73 644.77 L411.10 644.33 L412.47 643.86 L413.84 643.36 L415.21 642.82 L416.58 642.24 L417.95 641.62 L419.32 640.96 L420.69 640.25 L422.06 639.51 L423.43 638.72 L424.80 637.88 L426.17 637.01 L427.54 636.09 L428.91 635.14 L430.28 634.14 L431.65 633.11 L433.03 632.05 L434.40 630.96 L435.77 629.84 L437.14 628.70 L438.51 627.55 L439.88 626.39 L441.25 625.22 L442.62 624.06 L443.99 622.89 L445.36 621.74 L446.73 620.61 L448.10 619.50 L449.47 618.41 L450.84 617.35 L452.21 616.33 L453.58 615.34 L454.95 614.39 L456.32 613.47 L457.69 612.61 L459.06 611.78 L460.43 610.99 L461.80 610.25 L463.17 609.56 L464.54 608.90 L465.91 608.29 L467.28 607.71 L468.65 607.18 L470.03 606.68 L471.40 606.22 L472.77 605.79 L474.14 605.39 L475.51 605.02" fill="none" stroke="#52ac34" stroke-width="0.9"/>
<path d="M367.60 651.97 L379.00 651.97" fill="none" stroke="#1c3a88" stroke-width="0.9"/>
<path d="M386.50 651.61 L385.06 651.61 L386.43 651.57 L387.80 651.53 L389.17 651.48 L390.54 651.43 L391.91 651.38 L393.28 651.32 L394.65 651.25 L396.02 651.17 L397.40 651.09 L398.77 651.00 L400.14 650.90 L401.51 650.79 L402.88 650.66 L404.25 650.53 L405.62 650.38 L406.99 650.22 L408.36 650.04 L409.73 649.85 L411.10 649.63 L412.47 649.40 L413.84 649.14 L415.21 648.85 L416.58 648.55 L417.95 648.21 L419.32 647.84 L420.69 647.44 L422.06 647.00 L423.43 646.53 L424.80 646.01 L426.17 645.45 L427.54 644.85 L428.91 644.20 L430.28 643.50 L431.65 642.75 L433.03 641.94 L434.40 641.08 L435.77 640.17 L437.14 639.20 L438.51 638.17 L439.88 637.08 L441.25 635.94 L442.62 634.75 L443.99 633.50 L445.36 632.21 L446.73 630.88 L448.10 629.50 L449.47 628.10 L450.84 626.66 L452.21 625.21 L453.58 623.74 L454.95 622.27 L456.32 620.80 L457.69 619.34 L459.06 617.89 L460.43 616.47 L461.80 615.07 L463.17 613.71 L464.54 612.39 L465.91 611.11 L467.28 609.89 L468.65 608.71 L470.03 607.59 L471.40 606.52 L472.77 605.51 L474.14 604.56 L475.51 603.66" fill="none" stroke="#1c3a88" stroke-width="0.9"/>
<path d="M367.6 662.32 L379.0 662.32" fill="none" stroke="#b80630" stroke-width="0.9"/>
<path d="M386.5 662.32 L406.50 661.21 L422.82 660.81 L435.16 659.37 L447.50 657.54 L459.84 653.96 L476.16 648.79" fill="none" stroke="#b80630" stroke-width="0.9"/>
<rect x="404.70" y="635.84" width="3.60" height="3.60" fill="#52ac34"/>
<rect x="421.02" y="635.29" width="3.60" height="3.60" fill="#52ac34"/>
<rect x="445.70" y="619.53" width="3.60" height="3.60" fill="#52ac34"/>
<rect x="458.04" y="605.68" width="3.60" height="3.60" fill="#52ac34"/>
<rect x="474.36" y="604.24" width="3.60" height="3.60" fill="#52ac34"/>
<rect x="365.80" y="653.83" width="3.60" height="3.60" fill="#1c3a88"/>
<rect x="404.70" y="645.08" width="3.60" height="3.60" fill="#1c3a88"/>
<rect x="421.02" y="645.08" width="3.60" height="3.60" fill="#1c3a88"/>
<rect x="433.36" y="635.29" width="3.60" height="3.60" fill="#1c3a88"/>
<rect x="445.70" y="625.89" width="3.60" height="3.60" fill="#1c3a88"/>
<rect x="458.04" y="620.08" width="3.60" height="3.60" fill="#1c3a88"/>
<rect x="474.36" y="598.83" width="3.60" height="3.60" fill="#1c3a88"/>
<rect x="365.80" y="660.52" width="3.60" height="3.60" fill="#b80630"/>
<rect x="404.70" y="659.41" width="3.60" height="3.60" fill="#b80630"/>
<rect x="421.02" y="659.01" width="3.60" height="3.60" fill="#b80630"/>
<rect x="433.36" y="657.57" width="3.60" height="3.60" fill="#b80630"/>
<rect x="445.70" y="655.74" width="3.60" height="3.60" fill="#b80630"/>
<rect x="458.04" y="652.16" width="3.60" height="3.60" fill="#b80630"/>
<rect x="474.36" y="646.99" width="3.60" height="3.60" fill="#b80630"/>
<line x1="373.40" y1="589.20" x2="382.60" y2="589.20" stroke="#b80630" stroke-width="0.9"/>
<rect x="376.30" y="587.50" width="3.40" height="3.40" fill="#b80630"/>
<text x="385.80" y="591.40" font-size="6.6" textLength="36.2" lengthAdjust="spacingAndGlyphs" class="t">control sgRNA</text>
<line x1="373.40" y1="598.90" x2="382.60" y2="598.90" stroke="#1c3a88" stroke-width="0.9"/>
<rect x="376.30" y="597.20" width="3.40" height="3.40" fill="#1c3a88"/>
<text x="385.80" y="601.10" font-size="6.6" textLength="49.7" lengthAdjust="spacingAndGlyphs" class="t">TCF7L2 ex 3 sgRNA</text>
<line x1="373.40" y1="607.70" x2="382.60" y2="607.70" stroke="#52ac34" stroke-width="0.9"/>
<rect x="376.30" y="606.00" width="3.40" height="3.40" fill="#52ac34"/>
<text x="385.80" y="609.90" font-size="6.6" textLength="32.0" lengthAdjust="spacingAndGlyphs" class="t">JMJD6 sgRNA</text>
</g>
<rect x="0.5" y="0.5" width="519" height="710" fill="none" stroke="#000" stroke-width="1.1"/>
</svg>
</body></html>
